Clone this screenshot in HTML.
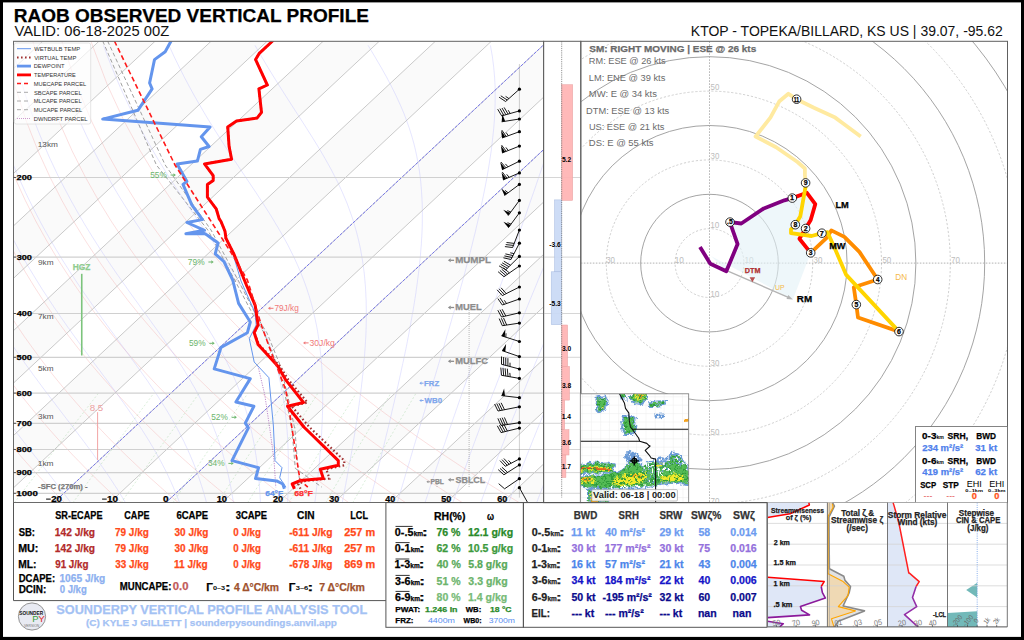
<!DOCTYPE html>
<html><head><meta charset="utf-8"><title>RAOB Observed Vertical Profile</title>
<style>
html,body{margin:0;padding:0;background:#fff;}
body{width:1024px;height:640px;overflow:hidden;position:relative;}
svg{position:absolute;left:0;top:0;display:block;}
text{font-family:"Liberation Sans", sans-serif;}
</style></head><body>
<svg width="1024" height="640" viewBox="0 0 1024 640">
<rect x="0" y="0" width="1024" height="640" fill="#fff"/>
<text x="13.73" y="22.30" font-size="19.00" font-weight="bold" fill="#000" stroke="#000" stroke-width="0.25" textLength="355.21" lengthAdjust="spacingAndGlyphs" >RAOB OBSERVED VERTICAL PROFILE</text>
<text x="14.44" y="36.40" font-size="14.20" font-weight="normal" fill="#111" textLength="154.77" lengthAdjust="spacingAndGlyphs" >VALID: 06-18-2025 00Z</text>
<text x="690.86" y="36.40" font-size="14.20" font-weight="normal" fill="#111" textLength="311.94" lengthAdjust="spacingAndGlyphs" >KTOP - TOPEKA/BILLARD, KS US | 39.07, -95.62</text>
<defs><clipPath id="cs"><rect x="13.5" y="41.3" width="530.1" height="461.2"/></clipPath>
<clipPath id="ch"><rect x="580.8" y="41.3" width="426.7" height="461.3"/></clipPath>
<pattern id="dots" width="3" height="3" patternUnits="userSpaceOnUse"><rect width="3" height="3" fill="#fafafa"/><rect width="1" height="1" fill="#e6e6e6"/></pattern>
</defs>
<g clip-path="url(#cs)">
<polygon points="-618.8,502.5 -562.8,502.5 -69.3,41.3 -125.3,41.3" fill="#fafafa"/>
<polygon points="-506.7,502.5 -450.7,502.5 42.8,41.3 -13.2,41.3" fill="#fafafa"/>
<polygon points="-394.6,502.5 -338.5,502.5 155.0,41.3 98.9,41.3" fill="#fafafa"/>
<polygon points="-282.5,502.5 -226.4,502.5 267.1,41.3 211.0,41.3" fill="#fafafa"/>
<polygon points="-170.4,502.5 -114.3,502.5 379.2,41.3 323.1,41.3" fill="#fafafa"/>
<polygon points="-58.2,502.5 -2.2,502.5 491.3,41.3 435.3,41.3" fill="#fafafa"/>
<polygon points="53.9,502.5 109.9,502.5 603.4,41.3 547.4,41.3" fill="#fafafa"/>
<polygon points="166.0,502.5 222.1,502.5 715.6,41.3 659.5,41.3" fill="#fafafa"/>
<polygon points="278.1,502.5 334.2,502.5 827.7,41.3 771.6,41.3" fill="#fafafa"/>
<polygon points="390.2,502.5 446.3,502.5 939.8,41.3 883.7,41.3" fill="#fafafa"/>
<polygon points="502.4,502.5 558.4,502.5 1051.9,41.3 995.9,41.3" fill="#fafafa"/>
<polyline points="-105.7,502.9 -109.2,498.1 -112.9,493.3 -116.5,488.3 -120.2,483.2 -123.9,478.0 -127.6,472.6 -131.3,467.1 -135.1,461.4 -138.9,455.6 -142.8,449.5 -146.6,443.3 -150.5,436.9 -154.4,430.2 -158.4,423.3 -162.3,416.2 -166.3,408.8 -170.3,401.1 -174.4,393.1 -178.4,384.7 -182.4,376.0 -186.5,366.9 -190.6,357.3 -194.6,347.2 -198.7,336.6 -202.7,325.4 -206.7,313.5 -210.6,300.9 -214.5,287.3 -218.2,272.8 -221.8,257.1 -225.1,240.0 -228.2,221.3 -230.9,200.6 -233.0,177.5 -234.3,151.3 -234.5,121.1 -232.9,85.3 -228.4,41.5" fill="none" stroke="#f4a0a0" stroke-width="0.6" opacity="0.55"/>
<polyline points="-48.8,502.9 -52.8,498.1 -56.8,493.3 -60.8,488.3 -64.9,483.2 -69.0,478.0 -73.2,472.6 -77.4,467.1 -81.6,461.4 -85.9,455.6 -90.2,449.5 -94.5,443.3 -98.9,436.9 -103.3,430.2 -107.7,423.3 -112.2,416.2 -116.7,408.8 -121.3,401.1 -125.9,393.1 -130.5,384.7 -135.2,376.0 -139.9,366.9 -144.6,357.3 -149.3,347.2 -154.1,336.6 -158.8,325.4 -163.5,313.5 -168.3,300.9 -172.9,287.3 -177.5,272.8 -182.0,257.1 -186.4,240.0 -190.5,221.3 -194.3,200.6 -197.6,177.5 -200.3,151.3 -201.9,121.1 -202.0,85.3 -199.4,41.5" fill="none" stroke="#f4a0a0" stroke-width="0.6" opacity="0.55"/>
<polyline points="8.0,502.9 3.7,498.1 -0.7,493.3 -5.2,488.3 -9.7,483.2 -14.2,478.0 -18.8,472.6 -23.4,467.1 -28.1,461.4 -32.8,455.6 -37.6,449.5 -42.4,443.3 -47.2,436.9 -52.1,430.2 -57.1,423.3 -62.1,416.2 -67.2,408.8 -72.3,401.1 -77.5,393.1 -82.7,384.7 -87.9,376.0 -93.2,366.9 -98.6,357.3 -104.0,347.2 -109.4,336.6 -114.9,325.4 -120.4,313.5 -125.9,300.9 -131.4,287.3 -136.9,272.8 -142.3,257.1 -147.6,240.0 -152.7,221.3 -157.7,200.6 -162.2,177.5 -166.2,151.3 -169.3,121.1 -171.0,85.3 -170.4,41.5" fill="none" stroke="#f4a0a0" stroke-width="0.6" opacity="0.55"/>
<polyline points="64.9,502.9 60.1,498.1 55.3,493.3 50.5,488.3 45.6,483.2 40.6,478.0 35.6,472.6 30.5,467.1 25.4,461.4 20.3,455.6 15.0,449.5 9.7,443.3 4.4,436.9 -1.0,430.2 -6.5,423.3 -12.0,416.2 -17.6,408.8 -23.3,401.1 -29.0,393.1 -34.8,384.7 -40.7,376.0 -46.6,366.9 -52.6,357.3 -58.7,347.2 -64.8,336.6 -71.0,325.4 -77.2,313.5 -83.5,300.9 -89.9,287.3 -96.2,272.8 -102.5,257.1 -108.8,240.0 -115.0,221.3 -121.0,200.6 -126.8,177.5 -132.1,151.3 -136.7,121.1 -140.1,85.3 -141.3,41.5" fill="none" stroke="#f4a0a0" stroke-width="0.6" opacity="0.55"/>
<polyline points="121.7,502.9 116.6,498.1 111.4,493.3 106.1,488.3 100.8,483.2 95.4,478.0 90.0,472.6 84.5,467.1 79.0,461.4 73.3,455.6 67.6,449.5 61.9,443.3 56.0,436.9 50.1,430.2 44.2,423.3 38.1,416.2 32.0,408.8 25.7,401.1 19.4,393.1 13.1,384.7 6.6,376.0 0.0,366.9 -6.6,357.3 -13.4,347.2 -20.2,336.6 -27.1,325.4 -34.1,313.5 -41.2,300.9 -48.3,287.3 -55.5,272.8 -62.8,257.1 -70.0,240.0 -77.3,221.3 -84.4,200.6 -91.4,177.5 -98.0,151.3 -104.1,121.1 -109.1,85.3 -112.3,41.5" fill="none" stroke="#f4a0a0" stroke-width="0.6" opacity="0.55"/>
<polyline points="178.6,502.9 173.0,498.1 167.4,493.3 161.8,488.3 156.1,483.2 150.3,478.0 144.4,472.6 138.5,467.1 132.5,461.4 126.4,455.6 120.2,449.5 114.0,443.3 107.7,436.9 101.3,430.2 94.8,423.3 88.2,416.2 81.5,408.8 74.8,401.1 67.9,393.1 60.9,384.7 53.8,376.0 46.7,366.9 39.4,357.3 32.0,347.2 24.4,336.6 16.8,325.4 9.1,313.5 1.2,300.9 -6.8,287.3 -14.9,272.8 -23.0,257.1 -31.3,240.0 -39.6,221.3 -47.8,200.6 -56.0,177.5 -64.0,151.3 -71.5,121.1 -78.2,85.3 -83.2,41.5" fill="none" stroke="#f4a0a0" stroke-width="0.6" opacity="0.55"/>
<polyline points="235.4,502.9 229.5,498.1 223.5,493.3 217.4,488.3 211.3,483.2 205.1,478.0 198.8,472.6 192.4,467.1 186.0,461.4 179.5,455.6 172.8,449.5 166.1,443.3 159.3,436.9 152.4,430.2 145.4,423.3 138.3,416.2 131.1,408.8 123.8,401.1 116.3,393.1 108.8,384.7 101.1,376.0 93.3,366.9 85.4,357.3 77.3,347.2 69.1,336.6 60.7,325.4 52.2,313.5 43.5,300.9 34.7,287.3 25.8,272.8 16.7,257.1 7.5,240.0 -1.8,221.3 -11.2,200.6 -20.6,177.5 -29.9,151.3 -38.9,121.1 -47.2,85.3 -54.2,41.5" fill="none" stroke="#f4a0a0" stroke-width="0.6" opacity="0.55"/>
<polyline points="292.3,502.9 286.0,498.1 279.6,493.3 273.1,488.3 266.5,483.2 259.9,478.0 253.2,472.6 246.4,467.1 239.5,461.4 232.5,455.6 225.4,449.5 218.2,443.3 210.9,436.9 203.6,430.2 196.0,423.3 188.4,416.2 180.7,408.8 172.8,401.1 164.8,393.1 156.6,384.7 148.4,376.0 139.9,366.9 131.3,357.3 122.6,347.2 113.7,336.6 104.6,325.4 95.3,313.5 85.9,300.9 76.3,287.3 66.5,272.8 56.4,257.1 46.3,240.0 35.9,221.3 25.4,200.6 14.8,177.5 4.2,151.3 -6.3,121.1 -16.3,85.3 -25.2,41.5" fill="none" stroke="#f4a0a0" stroke-width="0.6" opacity="0.55"/>
<polyline points="349.1,502.9 342.4,498.1 335.6,493.3 328.7,488.3 321.8,483.2 314.7,478.0 307.6,472.6 300.4,467.1 293.0,461.4 285.6,455.6 278.0,449.5 270.4,443.3 262.6,436.9 254.7,430.2 246.7,423.3 238.5,416.2 230.2,408.8 221.8,401.1 213.2,393.1 204.5,384.7 195.6,376.0 186.6,366.9 177.3,357.3 167.9,347.2 158.3,336.6 148.5,325.4 138.5,313.5 128.3,300.9 117.8,287.3 107.1,272.8 96.2,257.1 85.0,240.0 73.6,221.3 62.0,200.6 50.2,177.5 38.2,151.3 26.3,121.1 14.7,85.3 3.9,41.5" fill="none" stroke="#f4a0a0" stroke-width="0.6" opacity="0.55"/>
<polyline points="406.0,502.9 398.9,498.1 391.7,493.3 384.4,488.3 377.0,483.2 369.6,478.0 362.0,472.6 354.3,467.1 346.5,461.4 338.6,455.6 330.6,449.5 322.5,443.3 314.2,436.9 305.8,430.2 297.3,423.3 288.6,416.2 279.8,408.8 270.8,401.1 261.7,393.1 252.4,384.7 242.9,376.0 233.2,366.9 223.3,357.3 213.2,347.2 202.9,336.6 192.4,325.4 181.6,313.5 170.6,300.9 159.3,287.3 147.8,272.8 135.9,257.1 123.8,240.0 111.3,221.3 98.6,200.6 85.6,177.5 72.3,151.3 58.9,121.1 45.6,85.3 32.9,41.5" fill="none" stroke="#f4a0a0" stroke-width="0.6" opacity="0.55"/>
<polyline points="462.8,502.9 455.3,498.1 447.7,493.3 440.1,488.3 432.3,483.2 424.4,478.0 416.4,472.6 408.3,467.1 400.1,461.4 391.7,455.6 383.2,449.5 374.6,443.3 365.9,436.9 357.0,430.2 347.9,423.3 338.7,416.2 329.4,408.8 319.8,401.1 310.1,393.1 300.2,384.7 290.1,376.0 279.8,366.9 269.3,357.3 258.6,347.2 247.6,336.6 236.3,325.4 224.8,313.5 213.0,300.9 200.9,287.3 188.4,272.8 175.7,257.1 162.6,240.0 149.1,221.3 135.2,200.6 121.0,177.5 106.4,151.3 91.5,121.1 76.6,85.3 61.9,41.5" fill="none" stroke="#f4a0a0" stroke-width="0.6" opacity="0.55"/>
<polyline points="519.7,502.9 511.8,498.1 503.8,493.3 495.7,488.3 487.5,483.2 479.2,478.0 470.8,472.6 462.2,467.1 453.6,461.4 444.8,455.6 435.8,449.5 426.7,443.3 417.5,436.9 408.1,430.2 398.6,423.3 388.8,416.2 378.9,408.8 368.9,401.1 358.6,393.1 348.1,384.7 337.4,376.0 326.5,366.9 315.3,357.3 303.9,347.2 292.2,336.6 280.2,325.4 267.9,313.5 255.3,300.9 242.4,287.3 229.1,272.8 215.4,257.1 201.3,240.0 186.8,221.3 171.8,200.6 156.4,177.5 140.5,151.3 124.1,121.1 107.5,85.3 91.0,41.5" fill="none" stroke="#f4a0a0" stroke-width="0.6" opacity="0.55"/>
<polyline points="70.8,502.9 70.2,501.9 69.5,501.0 68.8,500.0 68.1,499.1 67.4,498.1 66.6,497.2 65.9,496.2 65.2,495.3 64.5,494.3 63.7,493.3 63.1,492.5 62.2,491.3 61.3,490.1 60.4,488.9 59.5,487.7 58.6,486.5 57.7,485.3 56.7,484.1 55.8,482.8 54.8,481.6 53.8,480.3 52.9,479.1 51.9,477.8 50.9,476.5 49.9,475.2 48.9,473.9 47.9,472.6 46.8,471.3 45.8,470.0 44.8,468.7 43.7,467.3 42.7,466.0 41.6,464.6 40.5,463.3 39.4,461.9 38.4,460.5 37.3,459.1 36.2,457.7 35.0,456.3 33.9,454.8 32.8,453.4 31.7,452.0 30.5,450.5 29.4,449.0 28.2,447.5 27.0,446.1 25.9,444.6 24.7,443.0 23.5,441.5 22.3,440.0 21.1,438.4 19.9,436.9 18.7,435.3 17.4,433.7 16.2,432.1 14.9,430.5 13.7,428.8 12.4,427.2 11.2,425.5 9.9,423.9 8.6,422.2 7.3,420.5 6.0,418.8 4.7,417.1 3.4,415.3 2.1,413.6 0.8,411.8 -0.5,410.0 -1.9,408.2 -3.2,406.4 -4.6,404.5 -5.9,402.6 -7.3,400.8 -8.6,398.9 -10.0,397.0 -11.4,395.0 -12.8,393.1 -14.2,391.1 -15.6,389.1 -17.0,387.1 -18.4,385.1 -19.8,383.0 -21.2,380.9 -22.7,378.8 -24.1,376.7 -25.6,374.6 -27.0,372.4 -28.5,370.2 -29.9,368.0 -31.4,365.8 -32.9,363.5 -34.3,361.2 -35.8,358.9 -37.3,356.5 -38.8,354.1 -40.3,351.7 -41.8,349.3 -43.3,346.8 -44.8,344.3 -46.3,341.8 -47.9,339.2 -49.4,336.6 -50.9,334.0 -52.4,331.3 -54.0,328.6 -55.5,325.9 -57.1,323.1 -58.6,320.3 -60.2,317.4 -61.8,314.5 -63.3,311.6 -64.9,308.6 -66.5,305.5 -68.0,302.4 -69.6,299.3 -71.2,296.1 -72.8,292.9 -74.4,289.6 -76.0,286.2 -77.5,282.8 -79.1,279.3 -80.7,275.8 -82.3,272.2 -83.9,268.5 -85.5,264.8 -87.1,261.0 -88.7,257.1 -90.3,253.1 -91.9,249.1 -93.5,244.9 -95.1,240.7 -96.7,236.4 -98.2,232.0 -99.8,227.5 -101.4,222.9 -102.9,218.1 -104.5,213.3 -106.0,208.3 -107.6,203.2 -109.1,198.0 -110.6,192.6 -112.1,187.1 -113.5,181.4 -115.0,175.6 -116.4,169.5 -117.8,163.3 -119.2,156.9 -120.5,150.2 -121.8,143.3 -123.0,136.2 -124.2,128.8 -125.4,121.1 -126.4,113.1 -127.4,104.7 -128.4,96.0 -129.2,86.9 -129.9,77.3 -130.5,67.2 -130.9,56.6 -131.2,45.4" fill="none" stroke="#b8b8ff" stroke-width="0.6" opacity="0.6"/>
<polyline points="125.5,502.9 125.0,501.9 124.4,501.0 123.9,500.0 123.3,499.1 122.7,498.1 122.2,497.2 121.6,496.2 121.0,495.3 120.4,494.3 119.8,493.3 119.3,492.5 118.6,491.3 117.8,490.1 117.1,488.9 116.3,487.7 115.5,486.5 114.7,485.3 113.9,484.1 113.1,482.8 112.3,481.6 111.5,480.3 110.6,479.1 109.8,477.8 108.9,476.5 108.1,475.2 107.2,473.9 106.3,472.6 105.4,471.3 104.5,470.0 103.6,468.7 102.6,467.3 101.7,466.0 100.7,464.6 99.8,463.3 98.8,461.9 97.8,460.5 96.8,459.1 95.8,457.7 94.7,456.3 93.7,454.8 92.7,453.4 91.6,452.0 90.5,450.5 89.4,449.0 88.3,447.5 87.2,446.1 86.1,444.6 85.0,443.0 83.8,441.5 82.7,440.0 81.5,438.4 80.3,436.9 79.1,435.3 77.9,433.7 76.7,432.1 75.5,430.5 74.2,428.8 73.0,427.2 71.7,425.5 70.4,423.9 69.1,422.2 67.8,420.5 66.5,418.8 65.2,417.1 63.8,415.3 62.5,413.6 61.1,411.8 59.8,410.0 58.4,408.2 57.0,406.4 55.6,404.5 54.2,402.6 52.7,400.8 51.3,398.9 49.8,397.0 48.4,395.0 46.9,393.1 45.4,391.1 43.9,389.1 42.4,387.1 40.9,385.1 39.4,383.0 37.8,380.9 36.3,378.8 34.7,376.7 33.1,374.6 31.6,372.4 30.0,370.2 28.4,368.0 26.8,365.8 25.1,363.5 23.5,361.2 21.9,358.9 20.2,356.5 18.6,354.1 16.9,351.7 15.2,349.3 13.5,346.8 11.9,344.3 10.2,341.8 8.4,339.2 6.7,336.6 5.0,334.0 3.3,331.3 1.5,328.6 -0.2,325.9 -2.0,323.1 -3.7,320.3 -5.5,317.4 -7.3,314.5 -9.1,311.6 -10.9,308.6 -12.7,305.5 -14.5,302.4 -16.3,299.3 -18.1,296.1 -20.0,292.9 -21.8,289.6 -23.6,286.2 -25.5,282.8 -27.3,279.3 -29.2,275.8 -31.0,272.2 -32.9,268.5 -34.8,264.8 -36.7,261.0 -38.5,257.1 -40.4,253.1 -42.3,249.1 -44.2,244.9 -46.1,240.7 -48.0,236.4 -49.8,232.0 -51.7,227.5 -53.6,222.9 -55.5,218.1 -57.4,213.3 -59.3,208.3 -61.2,203.2 -63.0,198.0 -64.9,192.6 -66.7,187.1 -68.6,181.4 -70.4,175.6 -72.2,169.5 -74.0,163.3 -75.8,156.9 -77.5,150.2 -79.3,143.3 -80.9,136.2 -82.6,128.8 -84.2,121.1 -85.7,113.1 -87.2,104.7 -88.7,96.0 -90.0,86.9 -91.3,77.3 -92.4,67.2 -93.4,56.6 -94.3,45.4" fill="none" stroke="#b8b8ff" stroke-width="0.6" opacity="0.6"/>
<polyline points="179.6,502.9 179.2,501.9 178.9,501.0 178.5,500.0 178.2,499.1 177.8,498.1 177.4,497.2 177.0,496.2 176.6,495.3 176.2,494.3 175.9,493.3 175.5,492.5 175.0,491.3 174.5,490.1 174.0,488.9 173.5,487.7 173.0,486.5 172.5,485.3 171.9,484.1 171.4,482.8 170.8,481.6 170.2,480.3 169.6,479.1 169.0,477.8 168.4,476.5 167.8,475.2 167.2,473.9 166.6,472.6 165.9,471.3 165.3,470.0 164.6,468.7 163.9,467.3 163.2,466.0 162.5,464.6 161.8,463.3 161.1,461.9 160.3,460.5 159.6,459.1 158.8,457.7 158.0,456.3 157.2,454.8 156.4,453.4 155.6,452.0 154.7,450.5 153.9,449.0 153.0,447.5 152.1,446.1 151.2,444.6 150.3,443.0 149.4,441.5 148.5,440.0 147.5,438.4 146.5,436.9 145.5,435.3 144.5,433.7 143.5,432.1 142.5,430.5 141.4,428.8 140.3,427.2 139.2,425.5 138.1,423.9 137.0,422.2 135.9,420.5 134.7,418.8 133.5,417.1 132.3,415.3 131.1,413.6 129.8,411.8 128.6,410.0 127.3,408.2 126.0,406.4 124.7,404.5 123.4,402.6 122.0,400.8 120.7,398.9 119.3,397.0 117.9,395.0 116.4,393.1 115.0,391.1 113.5,389.1 112.0,387.1 110.5,385.1 109.0,383.0 107.5,380.9 105.9,378.8 104.3,376.7 102.7,374.6 101.1,372.4 99.5,370.2 97.8,368.0 96.1,365.8 94.4,363.5 92.7,361.2 91.0,358.9 89.2,356.5 87.5,354.1 85.7,351.7 83.9,349.3 82.1,346.8 80.2,344.3 78.4,341.8 76.5,339.2 74.6,336.6 72.7,334.0 70.8,331.3 68.9,328.6 66.9,325.9 65.0,323.1 63.0,320.3 61.0,317.4 59.0,314.5 57.0,311.6 54.9,308.6 52.9,305.5 50.8,302.4 48.8,299.3 46.7,296.1 44.6,292.9 42.4,289.6 40.3,286.2 38.2,282.8 36.0,279.3 33.9,275.8 31.7,272.2 29.5,268.5 27.3,264.8 25.1,261.0 22.9,257.1 20.7,253.1 18.4,249.1 16.2,244.9 13.9,240.7 11.7,236.4 9.4,232.0 7.1,227.5 4.9,222.9 2.6,218.1 0.3,213.3 -2.0,208.3 -4.3,203.2 -6.6,198.0 -8.9,192.6 -11.2,187.1 -13.5,181.4 -15.8,175.6 -18.1,169.5 -20.4,163.3 -22.6,156.9 -24.9,150.2 -27.1,143.3 -29.4,136.2 -31.6,128.8 -33.7,121.1 -35.9,113.1 -38.0,104.7 -40.0,96.0 -42.0,86.9 -43.9,77.3 -45.8,67.2 -47.5,56.6 -49.1,45.4" fill="none" stroke="#b8b8ff" stroke-width="0.6" opacity="0.6"/>
<polyline points="206.5,502.9 206.3,501.9 206.0,501.0 205.8,500.0 205.5,499.1 205.3,498.1 205.0,497.2 204.7,496.2 204.4,495.3 204.2,494.3 203.9,493.3 203.7,492.5 203.3,491.3 202.9,490.1 202.6,488.9 202.2,487.7 201.8,486.5 201.4,485.3 201.0,484.1 200.6,482.8 200.2,481.6 199.8,480.3 199.4,479.1 198.9,477.8 198.5,476.5 198.0,475.2 197.6,473.9 197.1,472.6 196.6,471.3 196.1,470.0 195.6,468.7 195.1,467.3 194.6,466.0 194.1,464.6 193.5,463.3 193.0,461.9 192.4,460.5 191.8,459.1 191.2,457.7 190.6,456.3 190.0,454.8 189.4,453.4 188.7,452.0 188.1,450.5 187.4,449.0 186.7,447.5 186.0,446.1 185.3,444.6 184.6,443.0 183.9,441.5 183.1,440.0 182.3,438.4 181.5,436.9 180.7,435.3 179.9,433.7 179.1,432.1 178.2,430.5 177.3,428.8 176.5,427.2 175.5,425.5 174.6,423.9 173.7,422.2 172.7,420.5 171.7,418.8 170.7,417.1 169.7,415.3 168.6,413.6 167.6,411.8 166.5,410.0 165.4,408.2 164.3,406.4 163.1,404.5 161.9,402.6 160.7,400.8 159.5,398.9 158.3,397.0 157.0,395.0 155.7,393.1 154.4,391.1 153.1,389.1 151.7,387.1 150.3,385.1 148.9,383.0 147.5,380.9 146.0,378.8 144.5,376.7 143.0,374.6 141.5,372.4 139.9,370.2 138.3,368.0 136.7,365.8 135.1,363.5 133.4,361.2 131.7,358.9 130.0,356.5 128.3,354.1 126.5,351.7 124.7,349.3 122.9,346.8 121.1,344.3 119.2,341.8 117.3,339.2 115.4,336.6 113.5,334.0 111.5,331.3 109.5,328.6 107.5,325.9 105.5,323.1 103.4,320.3 101.4,317.4 99.3,314.5 97.2,311.6 95.0,308.6 92.9,305.5 90.7,302.4 88.5,299.3 86.3,296.1 84.0,292.9 81.8,289.6 79.5,286.2 77.2,282.8 74.9,279.3 72.6,275.8 70.2,272.2 67.9,268.5 65.5,264.8 63.1,261.0 60.7,257.1 58.3,253.1 55.8,249.1 53.4,244.9 50.9,240.7 48.4,236.4 45.9,232.0 43.4,227.5 40.9,222.9 38.4,218.1 35.9,213.3 33.3,208.3 30.8,203.2 28.2,198.0 25.6,192.6 23.1,187.1 20.5,181.4 17.9,175.6 15.3,169.5 12.7,163.3 10.2,156.9 7.6,150.2 5.0,143.3 2.5,136.2 -0.1,128.8 -2.6,121.1 -5.1,113.1 -7.6,104.7 -10.0,96.0 -12.4,86.9 -14.7,77.3 -17.0,67.2 -19.2,56.6 -21.2,45.4" fill="none" stroke="#b8b8ff" stroke-width="0.6" opacity="0.6"/>
<polyline points="233.5,502.9 233.3,501.9 233.2,501.0 233.0,500.0 232.9,499.1 232.7,498.1 232.6,497.2 232.4,496.2 232.2,495.3 232.1,494.3 231.9,493.3 231.8,492.5 231.6,491.3 231.3,490.1 231.1,488.9 230.9,487.7 230.7,486.5 230.4,485.3 230.2,484.1 229.9,482.8 229.7,481.6 229.4,480.3 229.2,479.1 228.9,477.8 228.6,476.5 228.3,475.2 228.0,473.9 227.7,472.6 227.4,471.3 227.1,470.0 226.8,468.7 226.4,467.3 226.1,466.0 225.7,464.6 225.4,463.3 225.0,461.9 224.6,460.5 224.2,459.1 223.8,457.7 223.4,456.3 223.0,454.8 222.6,453.4 222.2,452.0 221.7,450.5 221.2,449.0 220.8,447.5 220.3,446.1 219.8,444.6 219.3,443.0 218.8,441.5 218.2,440.0 217.7,438.4 217.1,436.9 216.6,435.3 216.0,433.7 215.4,432.1 214.7,430.5 214.1,428.8 213.5,427.2 212.8,425.5 212.1,423.9 211.4,422.2 210.7,420.5 210.0,418.8 209.2,417.1 208.4,415.3 207.6,413.6 206.8,411.8 206.0,410.0 205.1,408.2 204.2,406.4 203.3,404.5 202.4,402.6 201.5,400.8 200.5,398.9 199.5,397.0 198.5,395.0 197.5,393.1 196.4,391.1 195.3,389.1 194.2,387.1 193.0,385.1 191.8,383.0 190.6,380.9 189.4,378.8 188.1,376.7 186.8,374.6 185.5,372.4 184.2,370.2 182.8,368.0 181.4,365.8 179.9,363.5 178.4,361.2 176.9,358.9 175.4,356.5 173.8,354.1 172.2,351.7 170.5,349.3 168.8,346.8 167.1,344.3 165.3,341.8 163.6,339.2 161.7,336.6 159.9,334.0 158.0,331.3 156.1,328.6 154.1,325.9 152.1,323.1 150.1,320.3 148.0,317.4 145.9,314.5 143.8,311.6 141.6,308.6 139.4,305.5 137.2,302.4 134.9,299.3 132.6,296.1 130.3,292.9 127.9,289.6 125.6,286.2 123.1,282.8 120.7,279.3 118.2,275.8 115.7,272.2 113.2,268.5 110.6,264.8 108.1,261.0 105.5,257.1 102.8,253.1 100.2,249.1 97.5,244.9 94.8,240.7 92.1,236.4 89.4,232.0 86.6,227.5 83.8,222.9 81.0,218.1 78.2,213.3 75.4,208.3 72.5,203.2 69.7,198.0 66.8,192.6 63.9,187.1 61.0,181.4 58.0,175.6 55.1,169.5 52.2,163.3 49.2,156.9 46.3,150.2 43.3,143.3 40.4,136.2 37.4,128.8 34.5,121.1 31.6,113.1 28.7,104.7 25.8,96.0 22.9,86.9 20.1,77.3 17.3,67.2 14.6,56.6 12.0,45.4" fill="none" stroke="#b8b8ff" stroke-width="0.6" opacity="0.6"/>
<polyline points="260.5,502.9 260.4,501.9 260.4,501.0 260.3,500.0 260.3,499.1 260.2,498.1 260.2,497.2 260.1,496.2 260.1,495.3 260.0,494.3 259.9,493.3 259.9,492.5 259.8,491.3 259.7,490.1 259.6,488.9 259.6,487.7 259.5,486.5 259.4,485.3 259.3,484.1 259.2,482.8 259.1,481.6 258.9,480.3 258.8,479.1 258.7,477.8 258.6,476.5 258.5,475.2 258.3,473.9 258.2,472.6 258.0,471.3 257.9,470.0 257.7,468.7 257.6,467.3 257.4,466.0 257.2,464.6 257.1,463.3 256.9,461.9 256.7,460.5 256.5,459.1 256.3,457.7 256.1,456.3 255.9,454.8 255.6,453.4 255.4,452.0 255.2,450.5 254.9,449.0 254.7,447.5 254.4,446.1 254.1,444.6 253.9,443.0 253.6,441.5 253.3,440.0 253.0,438.4 252.6,436.9 252.3,435.3 252.0,433.7 251.6,432.1 251.3,430.5 250.9,428.8 250.5,427.2 250.1,425.5 249.7,423.9 249.3,422.2 248.8,420.5 248.4,418.8 247.9,417.1 247.4,415.3 246.9,413.6 246.4,411.8 245.9,410.0 245.3,408.2 244.8,406.4 244.2,404.5 243.6,402.6 243.0,400.8 242.3,398.9 241.7,397.0 241.0,395.0 240.3,393.1 239.5,391.1 238.8,389.1 238.0,387.1 237.2,385.1 236.4,383.0 235.5,380.9 234.6,378.8 233.7,376.7 232.8,374.6 231.8,372.4 230.8,370.2 229.8,368.0 228.7,365.8 227.6,363.5 226.5,361.2 225.3,358.9 224.1,356.5 222.9,354.1 221.6,351.7 220.3,349.3 218.9,346.8 217.5,344.3 216.1,341.8 214.6,339.2 213.1,336.6 211.5,334.0 209.9,331.3 208.2,328.6 206.5,325.9 204.8,323.1 203.0,320.3 201.1,317.4 199.2,314.5 197.2,311.6 195.2,308.6 193.2,305.5 191.1,302.4 188.9,299.3 186.7,296.1 184.5,292.9 182.2,289.6 179.8,286.2 177.4,282.8 174.9,279.3 172.4,275.8 169.9,272.2 167.3,268.5 164.7,264.8 162.0,261.0 159.2,257.1 156.5,253.1 153.6,249.1 150.8,244.9 147.9,240.7 144.9,236.4 142.0,232.0 139.0,227.5 135.9,222.9 132.8,218.1 129.7,213.3 126.6,208.3 123.4,203.2 120.2,198.0 116.9,192.6 113.7,187.1 110.4,181.4 107.1,175.6 103.7,169.5 100.4,163.3 97.0,156.9 93.6,150.2 90.2,143.3 86.7,136.2 83.3,128.8 79.8,121.1 76.4,113.1 72.9,104.7 69.5,96.0 66.1,86.9 62.6,77.3 59.3,67.2 55.9,56.6 52.6,45.4" fill="none" stroke="#b8b8ff" stroke-width="0.6" opacity="0.6"/>
<polyline points="287.6,502.9 287.6,501.9 287.7,501.0 287.7,500.0 287.7,499.1 287.8,498.1 287.8,497.2 287.9,496.2 287.9,495.3 287.9,494.3 288.0,493.3 288.0,492.5 288.0,491.3 288.1,490.1 288.1,488.9 288.1,487.7 288.2,486.5 288.2,485.3 288.2,484.1 288.3,482.8 288.3,481.6 288.3,480.3 288.3,479.1 288.4,477.8 288.4,476.5 288.4,475.2 288.4,473.9 288.4,472.6 288.4,471.3 288.4,470.0 288.4,468.7 288.4,467.3 288.4,466.0 288.4,464.6 288.4,463.3 288.4,461.9 288.4,460.5 288.3,459.1 288.3,457.7 288.3,456.3 288.3,454.8 288.2,453.4 288.2,452.0 288.1,450.5 288.1,449.0 288.0,447.5 288.0,446.1 287.9,444.6 287.8,443.0 287.8,441.5 287.7,440.0 287.6,438.4 287.5,436.9 287.4,435.3 287.3,433.7 287.2,432.1 287.1,430.5 286.9,428.8 286.8,427.2 286.7,425.5 286.5,423.9 286.4,422.2 286.2,420.5 286.0,418.8 285.8,417.1 285.6,415.3 285.4,413.6 285.2,411.8 285.0,410.0 284.8,408.2 284.5,406.4 284.3,404.5 284.0,402.6 283.7,400.8 283.4,398.9 283.1,397.0 282.8,395.0 282.4,393.1 282.1,391.1 281.7,389.1 281.3,387.1 280.9,385.1 280.5,383.0 280.0,380.9 279.6,378.8 279.1,376.7 278.6,374.6 278.1,372.4 277.5,370.2 276.9,368.0 276.3,365.8 275.7,363.5 275.0,361.2 274.3,358.9 273.6,356.5 272.9,354.1 272.1,351.7 271.3,349.3 270.4,346.8 269.6,344.3 268.6,341.8 267.7,339.2 266.7,336.6 265.6,334.0 264.5,331.3 263.4,328.6 262.2,325.9 261.0,323.1 259.7,320.3 258.3,317.4 257.0,314.5 255.5,311.6 254.0,308.6 252.4,305.5 250.8,302.4 249.1,299.3 247.3,296.1 245.5,292.9 243.6,289.6 241.6,286.2 239.6,282.8 237.4,279.3 235.3,275.8 233.0,272.2 230.6,268.5 228.2,264.8 225.7,261.0 223.1,257.1 220.5,253.1 217.7,249.1 214.9,244.9 212.0,240.7 209.0,236.4 206.0,232.0 202.9,227.5 199.7,222.9 196.4,218.1 193.1,213.3 189.7,208.3 186.3,203.2 182.8,198.0 179.2,192.6 175.6,187.1 171.9,181.4 168.1,175.6 164.3,169.5 160.5,163.3 156.6,156.9 152.7,150.2 148.7,143.3 144.7,136.2 140.7,128.8 136.6,121.1 132.5,113.1 128.4,104.7 124.3,96.0 120.1,86.9 116.0,77.3 111.8,67.2 107.7,56.6 103.5,45.4" fill="none" stroke="#b8b8ff" stroke-width="0.6" opacity="0.6"/>
<polyline points="314.8,502.9 314.9,501.9 315.1,501.0 315.2,500.0 315.3,499.1 315.4,498.1 315.5,497.2 315.6,496.2 315.8,495.3 315.9,494.3 316.0,493.3 316.1,492.5 316.2,491.3 316.4,490.1 316.5,488.9 316.7,487.7 316.8,486.5 316.9,485.3 317.1,484.1 317.2,482.8 317.4,481.6 317.5,480.3 317.6,479.1 317.8,477.8 317.9,476.5 318.1,475.2 318.2,473.9 318.3,472.6 318.5,471.3 318.6,470.0 318.7,468.7 318.9,467.3 319.0,466.0 319.1,464.6 319.3,463.3 319.4,461.9 319.5,460.5 319.6,459.1 319.8,457.7 319.9,456.3 320.0,454.8 320.1,453.4 320.3,452.0 320.4,450.5 320.5,449.0 320.6,447.5 320.7,446.1 320.8,444.6 320.9,443.0 321.1,441.5 321.2,440.0 321.3,438.4 321.4,436.9 321.5,435.3 321.6,433.7 321.7,432.1 321.7,430.5 321.8,428.8 321.9,427.2 322.0,425.5 322.1,423.9 322.2,422.2 322.2,420.5 322.3,418.8 322.4,417.1 322.4,415.3 322.5,413.6 322.5,411.8 322.6,410.0 322.6,408.2 322.6,406.4 322.7,404.5 322.7,402.6 322.7,400.8 322.7,398.9 322.7,397.0 322.7,395.0 322.7,393.1 322.7,391.1 322.7,389.1 322.6,387.1 322.6,385.1 322.5,383.0 322.5,380.9 322.4,378.8 322.3,376.7 322.2,374.6 322.1,372.4 322.0,370.2 321.8,368.0 321.7,365.8 321.5,363.5 321.3,361.2 321.1,358.9 320.9,356.5 320.7,354.1 320.4,351.7 320.1,349.3 319.9,346.8 319.5,344.3 319.2,341.8 318.8,339.2 318.4,336.6 318.0,334.0 317.6,331.3 317.1,328.6 316.6,325.9 316.0,323.1 315.4,320.3 314.8,317.4 314.1,314.5 313.4,311.6 312.7,308.6 311.9,305.5 311.0,302.4 310.1,299.3 309.2,296.1 308.1,292.9 307.1,289.6 305.9,286.2 304.7,282.8 303.4,279.3 302.0,275.8 300.6,272.2 299.0,268.5 297.4,264.8 295.7,261.0 293.9,257.1 291.9,253.1 289.9,249.1 287.8,244.9 285.5,240.7 283.1,236.4 280.6,232.0 278.0,227.5 275.2,222.9 272.4,218.1 269.4,213.3 266.2,208.3 262.9,203.2 259.5,198.0 256.0,192.6 252.3,187.1 248.5,181.4 244.6,175.6 240.5,169.5 236.4,163.3 232.1,156.9 227.7,150.2 223.2,143.3 218.7,136.2 214.0,128.8 209.2,121.1 204.4,113.1 199.5,104.7 194.5,96.0 189.5,86.9 184.4,77.3 179.3,67.2 174.1,56.6 169.0,45.4" fill="none" stroke="#b8b8ff" stroke-width="0.6" opacity="0.6"/>
<polyline points="342.2,502.9 342.4,501.9 342.6,501.0 342.7,500.0 342.9,499.1 343.1,498.1 343.3,497.2 343.5,496.2 343.7,495.3 343.8,494.3 344.0,493.3 344.2,492.5 344.4,491.3 344.6,490.1 344.9,488.9 345.1,487.7 345.3,486.5 345.6,485.3 345.8,484.1 346.0,482.8 346.2,481.6 346.5,480.3 346.7,479.1 347.0,477.8 347.2,476.5 347.4,475.2 347.7,473.9 347.9,472.6 348.1,471.3 348.4,470.0 348.6,468.7 348.9,467.3 349.1,466.0 349.4,464.6 349.6,463.3 349.9,461.9 350.1,460.5 350.4,459.1 350.6,457.7 350.9,456.3 351.1,454.8 351.4,453.4 351.6,452.0 351.9,450.5 352.1,449.0 352.4,447.5 352.6,446.1 352.9,444.6 353.1,443.0 353.4,441.5 353.6,440.0 353.9,438.4 354.2,436.9 354.4,435.3 354.7,433.7 354.9,432.1 355.2,430.5 355.5,428.8 355.7,427.2 356.0,425.5 356.2,423.9 356.5,422.2 356.8,420.5 357.0,418.8 357.3,417.1 357.5,415.3 357.8,413.6 358.1,411.8 358.3,410.0 358.6,408.2 358.8,406.4 359.1,404.5 359.3,402.6 359.6,400.8 359.9,398.9 360.1,397.0 360.4,395.0 360.6,393.1 360.9,391.1 361.1,389.1 361.4,387.1 361.6,385.1 361.8,383.0 362.1,380.9 362.3,378.8 362.5,376.7 362.8,374.6 363.0,372.4 363.2,370.2 363.4,368.0 363.7,365.8 363.9,363.5 364.1,361.2 364.3,358.9 364.5,356.5 364.7,354.1 364.8,351.7 365.0,349.3 365.2,346.8 365.3,344.3 365.5,341.8 365.6,339.2 365.8,336.6 365.9,334.0 366.0,331.3 366.1,328.6 366.2,325.9 366.2,323.1 366.3,320.3 366.3,317.4 366.3,314.5 366.3,311.6 366.3,308.6 366.2,305.5 366.2,302.4 366.1,299.3 365.9,296.1 365.8,292.9 365.6,289.6 365.4,286.2 365.1,282.8 364.8,279.3 364.5,275.8 364.1,272.2 363.6,268.5 363.1,264.8 362.6,261.0 361.9,257.1 361.2,253.1 360.5,249.1 359.6,244.9 358.7,240.7 357.6,236.4 356.5,232.0 355.2,227.5 353.9,222.9 352.4,218.1 350.7,213.3 348.9,208.3 347.0,203.2 344.8,198.0 342.5,192.6 340.0,187.1 337.3,181.4 334.3,175.6 331.2,169.5 327.7,163.3 324.1,156.9 320.2,150.2 316.0,143.3 311.6,136.2 306.9,128.8 302.0,121.1 296.8,113.1 291.4,104.7 285.8,96.0 280.0,86.9 274.0,77.3 267.8,67.2 261.5,56.6 255.0,45.4" fill="none" stroke="#b8b8ff" stroke-width="0.6" opacity="0.6"/>
<polyline points="369.7,502.9 369.9,501.9 370.2,501.0 370.4,500.0 370.6,499.1 370.9,498.1 371.1,497.2 371.3,496.2 371.6,495.3 371.8,494.3 372.1,493.3 372.3,492.5 372.6,491.3 372.8,490.1 373.1,488.9 373.4,487.7 373.7,486.5 374.0,485.3 374.4,484.1 374.7,482.8 375.0,481.6 375.3,480.3 375.6,479.1 375.9,477.8 376.2,476.5 376.5,475.2 376.9,473.9 377.2,472.6 377.5,471.3 377.8,470.0 378.2,468.7 378.5,467.3 378.8,466.0 379.2,464.6 379.5,463.3 379.8,461.9 380.2,460.5 380.5,459.1 380.9,457.7 381.2,456.3 381.6,454.8 381.9,453.4 382.3,452.0 382.6,450.5 383.0,449.0 383.3,447.5 383.7,446.1 384.1,444.6 384.4,443.0 384.8,441.5 385.2,440.0 385.6,438.4 385.9,436.9 386.3,435.3 386.7,433.7 387.1,432.1 387.5,430.5 387.9,428.8 388.3,427.2 388.7,425.5 389.1,423.9 389.5,422.2 389.9,420.5 390.3,418.8 390.7,417.1 391.1,415.3 391.5,413.6 391.9,411.8 392.3,410.0 392.8,408.2 393.2,406.4 393.6,404.5 394.1,402.6 394.5,400.8 394.9,398.9 395.4,397.0 395.8,395.0 396.3,393.1 396.7,391.1 397.2,389.1 397.6,387.1 398.1,385.1 398.5,383.0 399.0,380.9 399.5,378.8 399.9,376.7 400.4,374.6 400.9,372.4 401.3,370.2 401.8,368.0 402.3,365.8 402.8,363.5 403.3,361.2 403.8,358.9 404.3,356.5 404.8,354.1 405.3,351.7 405.8,349.3 406.3,346.8 406.8,344.3 407.3,341.8 407.8,339.2 408.3,336.6 408.8,334.0 409.3,331.3 409.8,328.6 410.3,325.9 410.8,323.1 411.3,320.3 411.8,317.4 412.3,314.5 412.9,311.6 413.4,308.6 413.9,305.5 414.4,302.4 414.9,299.3 415.4,296.1 415.9,292.9 416.3,289.6 416.8,286.2 417.3,282.8 417.7,279.3 418.2,275.8 418.6,272.2 419.1,268.5 419.5,264.8 419.9,261.0 420.3,257.1 420.6,253.1 420.9,249.1 421.3,244.9 421.5,240.7 421.8,236.4 422.0,232.0 422.2,227.5 422.3,222.9 422.3,218.1 422.4,213.3 422.3,208.3 422.2,203.2 421.9,198.0 421.6,192.6 421.2,187.1 420.7,181.4 420.0,175.6 419.2,169.5 418.1,163.3 416.9,156.9 415.5,150.2 413.8,143.3 411.8,136.2 409.5,128.8 406.8,121.1 403.8,113.1 400.2,104.7 396.2,96.0 391.7,86.9 386.7,77.3 381.0,67.2 374.8,56.6 368.1,45.4" fill="none" stroke="#b8b8ff" stroke-width="0.6" opacity="0.6"/>
<polyline points="397.3,502.9 397.6,501.9 397.8,501.0 398.1,500.0 398.4,499.1 398.7,498.1 399.0,497.2 399.2,496.2 399.5,495.3 399.8,494.3 400.1,493.3 400.3,492.5 400.7,491.3 401.0,490.1 401.4,488.9 401.7,487.7 402.1,486.5 402.4,485.3 402.8,484.1 403.2,482.8 403.5,481.6 403.9,480.3 404.3,479.1 404.6,477.8 405.0,476.5 405.4,475.2 405.8,473.9 406.2,472.6 406.6,471.3 407.0,470.0 407.3,468.7 407.7,467.3 408.1,466.0 408.5,464.6 409.0,463.3 409.4,461.9 409.8,460.5 410.2,459.1 410.6,457.7 411.0,456.3 411.5,454.8 411.9,453.4 412.3,452.0 412.7,450.5 413.2,449.0 413.6,447.5 414.1,446.1 414.5,444.6 415.0,443.0 415.4,441.5 415.9,440.0 416.4,438.4 416.8,436.9 417.3,435.3 417.8,433.7 418.3,432.1 418.7,430.5 419.2,428.8 419.7,427.2 420.2,425.5 420.7,423.9 421.2,422.2 421.7,420.5 422.2,418.8 422.8,417.1 423.3,415.3 423.8,413.6 424.4,411.8 424.9,410.0 425.4,408.2 426.0,406.4 426.5,404.5 427.1,402.6 427.7,400.8 428.2,398.9 428.8,397.0 429.4,395.0 430.0,393.1 430.6,391.1 431.2,389.1 431.8,387.1 432.4,385.1 433.0,383.0 433.6,380.9 434.2,378.8 434.9,376.7 435.5,374.6 436.2,372.4 436.8,370.2 437.5,368.0 438.1,365.8 438.8,363.5 439.5,361.2 440.2,358.9 440.9,356.5 441.6,354.1 442.3,351.7 443.0,349.3 443.8,346.8 444.5,344.3 445.2,341.8 446.0,339.2 446.7,336.6 447.5,334.0 448.3,331.3 449.1,328.6 449.9,325.9 450.7,323.1 451.5,320.3 452.3,317.4 453.2,314.5 454.0,311.6 454.9,308.6 455.7,305.5 456.6,302.4 457.5,299.3 458.4,296.1 459.3,292.9 460.2,289.6 461.1,286.2 462.1,282.8 463.0,279.3 464.0,275.8 465.0,272.2 465.9,268.5 466.9,264.8 467.9,261.0 469.0,257.1 470.0,253.1 471.0,249.1 472.1,244.9 473.1,240.7 474.2,236.4 475.3,232.0 476.3,227.5 477.4,222.9 478.5,218.1 479.6,213.3 480.7,208.3 481.8,203.2 482.9,198.0 484.0,192.6 485.1,187.1 486.2,181.4 487.3,175.6 488.3,169.5 489.3,163.3 490.3,156.9 491.3,150.2 492.1,143.3 492.9,136.2 493.7,128.8 494.3,121.1 494.8,113.1 495.1,104.7 495.2,96.0 495.1,86.9 494.6,77.3 493.7,67.2 492.4,56.6 490.4,45.4" fill="none" stroke="#b8b8ff" stroke-width="0.6" opacity="0.6"/>
<polyline points="425.0,502.9 425.3,501.9 425.6,501.0 425.9,500.0 426.2,499.1 426.5,498.1 426.9,497.2 427.2,496.2 427.5,495.3 427.8,494.3 428.1,493.3 428.4,492.5 428.8,491.3 429.2,490.1 429.5,488.9 429.9,487.7 430.3,486.5 430.7,485.3 431.1,484.1 431.6,482.8 432.0,481.6 432.4,480.3 432.8,479.1 433.2,477.8 433.6,476.5 434.1,475.2 434.5,473.9 434.9,472.6 435.4,471.3 435.8,470.0 436.2,468.7 436.7,467.3 437.1,466.0 437.6,464.6 438.1,463.3 438.5,461.9 439.0,460.5 439.4,459.1 439.9,457.7 440.4,456.3 440.9,454.8 441.4,453.4 441.9,452.0 442.3,450.5 442.8,449.0 443.3,447.5 443.8,446.1 444.4,444.6 444.9,443.0 445.4,441.5 445.9,440.0 446.4,438.4 447.0,436.9 447.5,435.3 448.1,433.7 448.6,432.1 449.2,430.5 449.7,428.8 450.3,427.2 450.9,425.5 451.4,423.9 452.0,422.2 452.6,420.5 453.2,418.8 453.8,417.1 454.4,415.3 455.0,413.6 455.6,411.8 456.2,410.0 456.9,408.2 457.5,406.4 458.1,404.5 458.8,402.6 459.4,400.8 460.1,398.9 460.8,397.0 461.4,395.0 462.1,393.1 462.8,391.1 463.5,389.1 464.2,387.1 464.9,385.1 465.7,383.0 466.4,380.9 467.1,378.8 467.9,376.7 468.6,374.6 469.4,372.4 470.2,370.2 471.0,368.0 471.8,365.8 472.6,363.5 473.4,361.2 474.2,358.9 475.0,356.5 475.9,354.1 476.7,351.7 477.6,349.3 478.5,346.8 479.4,344.3 480.3,341.8 481.2,339.2 482.1,336.6 483.1,334.0 484.0,331.3 485.0,328.6 486.0,325.9 487.0,323.1 488.0,320.3 489.0,317.4 490.1,314.5 491.1,311.6 492.2,308.6 493.3,305.5 494.4,302.4 495.5,299.3 496.7,296.1 497.9,292.9 499.0,289.6 500.2,286.2 501.5,282.8 502.7,279.3 504.0,275.8 505.3,272.2 506.6,268.5 507.9,264.8 509.3,261.0 510.7,257.1 512.1,253.1 513.6,249.1 515.0,244.9 516.6,240.7 518.1,236.4 519.7,232.0 521.3,227.5 522.9,222.9 524.6,218.1 526.3,213.3 528.0,208.3 529.8,203.2 531.6,198.0 533.5,192.6 535.4,187.1 537.3,181.4 539.3,175.6 541.4,169.5 543.5,163.3 545.6,156.9 547.8,150.2 550.1,143.3 552.4,136.2 554.8,128.8 557.2,121.1 559.7,113.1 562.2,104.7 564.8,96.0 567.4,86.9 570.1,77.3 572.8,67.2 575.5,56.6 578.2,45.4" fill="none" stroke="#b8b8ff" stroke-width="0.6" opacity="0.6"/>
<polyline points="452.8,502.9 453.1,501.9 453.5,501.0 453.8,500.0 454.1,499.1 454.5,498.1 454.8,497.2 455.1,496.2 455.5,495.3 455.8,494.3 456.2,493.3 456.4,492.5 456.8,491.3 457.3,490.1 457.7,488.9 458.1,487.7 458.5,486.5 459.0,485.3 459.4,484.1 459.8,482.8 460.3,481.6 460.7,480.3 461.2,479.1 461.6,477.8 462.1,476.5 462.6,475.2 463.0,473.9 463.5,472.6 464.0,471.3 464.4,470.0 464.9,468.7 465.4,467.3 465.9,466.0 466.4,464.6 466.9,463.3 467.4,461.9 467.9,460.5 468.4,459.1 468.9,457.7 469.4,456.3 469.9,454.8 470.4,453.4 471.0,452.0 471.5,450.5 472.0,449.0 472.6,447.5 473.1,446.1 473.7,444.6 474.2,443.0 474.8,441.5 475.4,440.0 475.9,438.4 476.5,436.9 477.1,435.3 477.7,433.7 478.3,432.1 478.9,430.5 479.5,428.8 480.1,427.2 480.7,425.5 481.4,423.9 482.0,422.2 482.6,420.5 483.3,418.8 483.9,417.1 484.6,415.3 485.3,413.6 485.9,411.8 486.6,410.0 487.3,408.2 488.0,406.4 488.7,404.5 489.4,402.6 490.1,400.8 490.8,398.9 491.6,397.0 492.3,395.0 493.1,393.1 493.8,391.1 494.6,389.1 495.4,387.1 496.2,385.1 496.9,383.0 497.8,380.9 498.6,378.8 499.4,376.7 500.2,374.6 501.1,372.4 501.9,370.2 502.8,368.0 503.7,365.8 504.6,363.5 505.5,361.2 506.4,358.9 507.3,356.5 508.3,354.1 509.2,351.7 510.2,349.3 511.2,346.8 512.1,344.3 513.2,341.8 514.2,339.2 515.2,336.6 516.3,334.0 517.3,331.3 518.4,328.6 519.5,325.9 520.6,323.1 521.8,320.3 522.9,317.4 524.1,314.5 525.3,311.6 526.5,308.6 527.8,305.5 529.0,302.4 530.3,299.3 531.6,296.1 532.9,292.9 534.3,289.6 535.7,286.2 537.1,282.8 538.5,279.3 540.0,275.8 541.5,272.2 543.0,268.5 544.5,264.8 546.1,261.0 547.7,257.1 549.4,253.1 551.1,249.1 552.8,244.9 554.6,240.7 556.4,236.4 558.2,232.0 560.1,227.5 562.0,222.9 564.0,218.1 566.1,213.3 568.2,208.3 570.3,203.2 572.6,198.0 574.8,192.6 577.2,187.1 579.6,181.4 582.1,175.6 584.7,169.5 587.3,163.3 590.0,156.9 592.9,150.2 595.8,143.3 598.9,136.2 602.0,128.8 605.3,121.1 608.7,113.1 612.2,104.7 615.9,96.0 619.8,86.9 623.9,77.3 628.1,67.2 632.5,56.6 637.2,45.4" fill="none" stroke="#b8b8ff" stroke-width="0.6" opacity="0.6"/>
<polyline points="480.7,502.9 481.0,501.9 481.4,501.0 481.7,500.0 482.1,499.1 482.4,498.1 482.8,497.2 483.1,496.2 483.5,495.3 483.8,494.3 484.2,493.3 484.5,492.5 484.9,491.3 485.3,490.1 485.8,488.9 486.2,487.7 486.7,486.5 487.1,485.3 487.6,484.1 488.1,482.8 488.5,481.6 489.0,480.3 489.5,479.1 489.9,477.8 490.4,476.5 490.9,475.2 491.4,473.9 491.9,472.6 492.4,471.3 492.9,470.0 493.4,468.7 493.9,467.3 494.4,466.0 494.9,464.6 495.4,463.3 495.9,461.9 496.5,460.5 497.0,459.1 497.5,457.7 498.1,456.3 498.6,454.8 499.2,453.4 499.7,452.0 500.3,450.5 500.9,449.0 501.4,447.5 502.0,446.1 502.6,444.6 503.2,443.0 503.8,441.5 504.4,440.0 505.0,438.4 505.6,436.9 506.2,435.3 506.8,433.7 507.5,432.1 508.1,430.5 508.7,428.8 509.4,427.2 510.0,425.5 510.7,423.9 511.4,422.2 512.0,420.5 512.7,418.8 513.4,417.1 514.1,415.3 514.8,413.6 515.5,411.8 516.2,410.0 516.9,408.2 517.7,406.4 518.4,404.5 519.2,402.6 519.9,400.8 520.7,398.9 521.5,397.0 522.3,395.0 523.0,393.1 523.9,391.1 524.7,389.1 525.5,387.1 526.3,385.1 527.2,383.0 528.0,380.9 528.9,378.8 529.8,376.7 530.6,374.6 531.5,372.4 532.4,370.2 533.4,368.0 534.3,365.8 535.2,363.5 536.2,361.2 537.2,358.9 538.2,356.5 539.2,354.1 540.2,351.7 541.2,349.3 542.3,346.8 543.3,344.3 544.4,341.8 545.5,339.2 546.6,336.6 547.7,334.0 548.8,331.3 550.0,328.6 551.2,325.9 552.4,323.1 553.6,320.3 554.8,317.4 556.1,314.5 557.4,311.6 558.7,308.6 560.0,305.5 561.4,302.4 562.7,299.3 564.1,296.1 565.6,292.9 567.0,289.6 568.5,286.2 570.0,282.8 571.5,279.3 573.1,275.8 574.7,272.2 576.4,268.5 578.0,264.8 579.7,261.0 581.5,257.1 583.3,253.1 585.1,249.1 587.0,244.9 588.9,240.7 590.9,236.4 592.9,232.0 594.9,227.5 597.1,222.9 599.2,218.1 601.5,213.3 603.8,208.3 606.1,203.2 608.6,198.0 611.1,192.6 613.7,187.1 616.3,181.4 619.1,175.6 621.9,169.5 624.9,163.3 627.9,156.9 631.1,150.2 634.4,143.3 637.8,136.2 641.4,128.8 645.1,121.1 648.9,113.1 653.0,104.7 657.2,96.0 661.7,86.9 666.3,77.3 671.3,67.2 676.5,56.6 682.0,45.4" fill="none" stroke="#b8b8ff" stroke-width="0.6" opacity="0.6"/>
<polyline points="508.6,502.9 509.0,501.9 509.3,501.0 509.7,500.0 510.0,499.1 510.4,498.1 510.7,497.2 511.1,496.2 511.5,495.3 511.8,494.3 512.2,493.3 512.5,492.5 513.0,491.3 513.4,490.1 513.9,488.9 514.3,487.7 514.8,486.5 515.3,485.3 515.7,484.1 516.2,482.8 516.7,481.6 517.2,480.3 517.6,479.1 518.1,477.8 518.6,476.5 519.1,475.2 519.6,473.9 520.1,472.6 520.6,471.3 521.1,470.0 521.7,468.7 522.2,467.3 522.7,466.0 523.2,464.6 523.8,463.3 524.3,461.9 524.9,460.5 525.4,459.1 526.0,457.7 526.5,456.3 527.1,454.8 527.7,453.4 528.2,452.0 528.8,450.5 529.4,449.0 530.0,447.5 530.6,446.1 531.2,444.6 531.8,443.0 532.4,441.5 533.0,440.0 533.6,438.4 534.3,436.9 534.9,435.3 535.5,433.7 536.2,432.1 536.8,430.5 537.5,428.8 538.2,427.2 538.8,425.5 539.5,423.9 540.2,422.2 540.9,420.5 541.6,418.8 542.3,417.1 543.0,415.3 543.8,413.6 544.5,411.8 545.2,410.0 546.0,408.2 546.7,406.4 547.5,404.5 548.3,402.6 549.1,400.8 549.9,398.9 550.7,397.0 551.5,395.0 552.3,393.1 553.1,391.1 554.0,389.1 554.8,387.1 555.7,385.1 556.5,383.0 557.4,380.9 558.3,378.8 559.2,376.7 560.1,374.6 561.1,372.4 562.0,370.2 563.0,368.0 563.9,365.8 564.9,363.5 565.9,361.2 566.9,358.9 567.9,356.5 569.0,354.1 570.0,351.7 571.1,349.3 572.2,346.8 573.3,344.3 574.4,341.8 575.5,339.2 576.7,336.6 577.8,334.0 579.0,331.3 580.2,328.6 581.4,325.9 582.7,323.1 583.9,320.3 585.2,317.4 586.5,314.5 587.9,311.6 589.2,308.6 590.6,305.5 592.0,302.4 593.4,299.3 594.9,296.1 596.4,292.9 597.9,289.6 599.4,286.2 601.0,282.8 602.6,279.3 604.3,275.8 605.9,272.2 607.6,268.5 609.4,264.8 611.2,261.0 613.0,257.1 614.9,253.1 616.8,249.1 618.7,244.9 620.7,240.7 622.8,236.4 624.9,232.0 627.0,227.5 629.3,222.9 631.5,218.1 633.9,213.3 636.3,208.3 638.8,203.2 641.3,198.0 644.0,192.6 646.7,187.1 649.5,181.4 652.4,175.6 655.4,169.5 658.5,163.3 661.7,156.9 665.0,150.2 668.5,143.3 672.1,136.2 675.9,128.8 679.8,121.1 683.9,113.1 688.2,104.7 692.7,96.0 697.5,86.9 702.4,77.3 707.7,67.2 713.3,56.6 719.2,45.4" fill="none" stroke="#b8b8ff" stroke-width="0.6" opacity="0.6"/>
<polyline points="536.6,502.9 536.9,501.9 537.3,501.0 537.7,500.0 538.0,499.1 538.4,498.1 538.8,497.2 539.1,496.2 539.5,495.3 539.9,494.3 540.2,493.3 540.5,492.5 541.0,491.3 541.5,490.1 541.9,488.9 542.4,487.7 542.9,486.5 543.3,485.3 543.8,484.1 544.3,482.8 544.8,481.6 545.3,480.3 545.8,479.1 546.2,477.8 546.7,476.5 547.3,475.2 547.8,473.9 548.3,472.6 548.8,471.3 549.3,470.0 549.8,468.7 550.4,467.3 550.9,466.0 551.4,464.6 552.0,463.3 552.5,461.9 553.1,460.5 553.6,459.1 554.2,457.7 554.8,456.3 555.3,454.8 555.9,453.4 556.5,452.0 557.1,450.5 557.7,449.0 558.3,447.5 558.9,446.1 559.5,444.6 560.1,443.0 560.7,441.5 561.4,440.0 562.0,438.4 562.6,436.9 563.3,435.3 563.9,433.7 564.6,432.1 565.2,430.5 565.9,428.8 566.6,427.2 567.3,425.5 568.0,423.9 568.7,422.2 569.4,420.5 570.1,418.8 570.8,417.1 571.5,415.3 572.3,413.6 573.0,411.8 573.8,410.0 574.5,408.2 575.3,406.4 576.1,404.5 576.9,402.6 577.7,400.8 578.5,398.9 579.3,397.0 580.1,395.0 581.0,393.1 581.8,391.1 582.7,389.1 583.5,387.1 584.4,385.1 585.3,383.0 586.2,380.9 587.1,378.8 588.0,376.7 588.9,374.6 589.9,372.4 590.9,370.2 591.8,368.0 592.8,365.8 593.8,363.5 594.8,361.2 595.8,358.9 596.9,356.5 597.9,354.1 599.0,351.7 600.1,349.3 601.2,346.8 602.3,344.3 603.4,341.8 604.6,339.2 605.8,336.6 607.0,334.0 608.2,331.3 609.4,328.6 610.6,325.9 611.9,323.1 613.2,320.3 614.5,317.4 615.8,314.5 617.2,311.6 618.6,308.6 620.0,305.5 621.4,302.4 622.9,299.3 624.4,296.1 625.9,292.9 627.4,289.6 629.0,286.2 630.6,282.8 632.2,279.3 633.9,275.8 635.6,272.2 637.4,268.5 639.1,264.8 641.0,261.0 642.8,257.1 644.7,253.1 646.7,249.1 648.7,244.9 650.7,240.7 652.8,236.4 655.0,232.0 657.2,227.5 659.5,222.9 661.8,218.1 664.2,213.3 666.7,208.3 669.2,203.2 671.8,198.0 674.5,192.6 677.3,187.1 680.2,181.4 683.2,175.6 686.2,169.5 689.4,163.3 692.7,156.9 696.2,150.2 699.7,143.3 703.4,136.2 707.3,128.8 711.3,121.1 715.6,113.1 720.0,104.7 724.6,96.0 729.5,86.9 734.6,77.3 740.1,67.2 745.8,56.6 752.0,45.4" fill="none" stroke="#b8b8ff" stroke-width="0.6" opacity="0.6"/>
<polyline points="14.3,502.9 21.5,493.3 37.3,472.6 55.0,449.5 75.1,423.3 98.5,393.1" fill="none" stroke="#66bb66" stroke-width="0.6" opacity="0.4" stroke-dasharray="2,2"/>
<polyline points="72.8,502.9 79.8,493.3 94.9,472.6 111.9,449.5 131.3,423.3 153.9,393.1" fill="none" stroke="#66bb66" stroke-width="0.6" opacity="0.4" stroke-dasharray="2,2"/>
<polyline points="121.0,502.9 127.7,493.3 142.3,472.6 158.7,449.5 177.5,423.3 199.2,393.1" fill="none" stroke="#66bb66" stroke-width="0.6" opacity="0.4" stroke-dasharray="2,2"/>
<polyline points="172.8,502.9 179.3,493.3 193.3,472.6 209.0,449.5 227.0,423.3 248.0,393.1" fill="none" stroke="#66bb66" stroke-width="0.6" opacity="0.4" stroke-dasharray="2,2"/>
<polyline points="217.6,502.9 223.8,493.3 237.2,472.6 252.4,449.5 269.7,423.3 290.0,393.1" fill="none" stroke="#66bb66" stroke-width="0.6" opacity="0.4" stroke-dasharray="2,2"/>
<polyline points="247.5,502.9 253.5,493.3 266.6,472.6 281.4,449.5 298.3,423.3 318.0,393.1" fill="none" stroke="#66bb66" stroke-width="0.6" opacity="0.4" stroke-dasharray="2,2"/>
<polyline points="288.6,502.9 294.4,493.3 306.9,472.6 321.1,449.5 337.4,423.3 356.4,393.1" fill="none" stroke="#66bb66" stroke-width="0.6" opacity="0.4" stroke-dasharray="2,2"/>
<polyline points="325.6,502.9 331.1,493.3 343.2,472.6 356.9,449.5 372.6,423.3 390.9,393.1" fill="none" stroke="#66bb66" stroke-width="0.6" opacity="0.4" stroke-dasharray="2,2"/>
<polyline points="352.6,502.9 358.0,493.3 369.7,472.6 383.0,449.5 398.3,423.3 416.1,393.1" fill="none" stroke="#66bb66" stroke-width="0.6" opacity="0.4" stroke-dasharray="2,2"/>
<line x1="-618.8" y1="502.5" x2="-125.3" y2="41.3" stroke="#bdbdbd" stroke-width="0.8"/>
<line x1="-562.8" y1="502.5" x2="-69.3" y2="41.3" stroke="#bdbdbd" stroke-width="0.8"/>
<line x1="-506.7" y1="502.5" x2="-13.2" y2="41.3" stroke="#bdbdbd" stroke-width="0.8"/>
<line x1="-450.7" y1="502.5" x2="42.8" y2="41.3" stroke="#bdbdbd" stroke-width="0.8"/>
<line x1="-394.6" y1="502.5" x2="98.9" y2="41.3" stroke="#bdbdbd" stroke-width="0.8"/>
<line x1="-338.5" y1="502.5" x2="155.0" y2="41.3" stroke="#bdbdbd" stroke-width="0.8"/>
<line x1="-282.5" y1="502.5" x2="211.0" y2="41.3" stroke="#bdbdbd" stroke-width="0.8"/>
<line x1="-226.4" y1="502.5" x2="267.1" y2="41.3" stroke="#bdbdbd" stroke-width="0.8"/>
<line x1="-170.4" y1="502.5" x2="323.1" y2="41.3" stroke="#bdbdbd" stroke-width="0.8"/>
<line x1="-114.3" y1="502.5" x2="379.2" y2="41.3" stroke="#bdbdbd" stroke-width="0.8"/>
<line x1="-58.2" y1="502.5" x2="435.3" y2="41.3" stroke="#bdbdbd" stroke-width="0.8"/>
<line x1="-2.2" y1="502.5" x2="491.3" y2="41.3" stroke="#bdbdbd" stroke-width="0.8"/>
<line x1="53.9" y1="502.5" x2="547.4" y2="41.3" stroke="#bdbdbd" stroke-width="0.8"/>
<line x1="109.9" y1="502.5" x2="603.4" y2="41.3" stroke="#bdbdbd" stroke-width="0.8"/>
<line x1="166.0" y1="502.5" x2="659.5" y2="41.3" stroke="#bdbdbd" stroke-width="0.8"/>
<line x1="222.1" y1="502.5" x2="715.6" y2="41.3" stroke="#bdbdbd" stroke-width="0.8"/>
<line x1="278.1" y1="502.5" x2="771.6" y2="41.3" stroke="#bdbdbd" stroke-width="0.8"/>
<line x1="334.2" y1="502.5" x2="827.7" y2="41.3" stroke="#bdbdbd" stroke-width="0.8"/>
<line x1="390.2" y1="502.5" x2="883.7" y2="41.3" stroke="#bdbdbd" stroke-width="0.8"/>
<line x1="446.3" y1="502.5" x2="939.8" y2="41.3" stroke="#bdbdbd" stroke-width="0.8"/>
<line x1="502.4" y1="502.5" x2="995.9" y2="41.3" stroke="#bdbdbd" stroke-width="0.8"/>
<line x1="558.4" y1="502.5" x2="1051.9" y2="41.3" stroke="#bdbdbd" stroke-width="0.8"/>
<line x1="53.9" y1="502.5" x2="547.4" y2="41.3" stroke="#6a6aee" stroke-width="0.9" stroke-dasharray="3,1.5"/>
<line x1="166.0" y1="502.5" x2="659.5" y2="41.3" stroke="#6a6aee" stroke-width="0.9" stroke-dasharray="3,1.5"/>
<line x1="13.5" y1="41.5" x2="543.6" y2="41.5" stroke="#d0d0d0" stroke-width="1.2"/>
<line x1="13.5" y1="177.5" x2="543.6" y2="177.5" stroke="#d0d0d0" stroke-width="1.2"/>
<line x1="13.5" y1="257.1" x2="543.6" y2="257.1" stroke="#d0d0d0" stroke-width="1.2"/>
<line x1="13.5" y1="313.5" x2="543.6" y2="313.5" stroke="#d0d0d0" stroke-width="1.2"/>
<line x1="13.5" y1="357.3" x2="543.6" y2="357.3" stroke="#d0d0d0" stroke-width="1.2"/>
<line x1="13.5" y1="393.1" x2="543.6" y2="393.1" stroke="#d0d0d0" stroke-width="1.2"/>
<line x1="13.5" y1="423.3" x2="543.6" y2="423.3" stroke="#d0d0d0" stroke-width="1.2"/>
<line x1="13.5" y1="449.5" x2="543.6" y2="449.5" stroke="#d0d0d0" stroke-width="1.2"/>
<line x1="13.5" y1="472.6" x2="543.6" y2="472.6" stroke="#d0d0d0" stroke-width="1.2"/>
<line x1="13.5" y1="493.3" x2="543.6" y2="493.3" stroke="#d0d0d0" stroke-width="1.2"/>
</g>
<g clip-path="url(#cs)">
<polyline points="102.7,41.0 156.4,165.0 207.8,230.0 234.7,280.0 254.2,317.0 264.0,332.7 277.7,366.0 285.5,397.0 292.0,430.0 295.3,468.4 321.9,487.2" fill="none" stroke="#a0a0a0" stroke-width="1.0" stroke-dasharray="4,2.5"/>
<polyline points="107.6,41.0 165.2,165.0 211.0,230.0 238.0,280.0 257.0,317.0 267.0,333.0 280.5,366.0 288.0,397.0 295.0,430.0 298.0,470.0 300.0,482.0" fill="none" stroke="#a0a0a0" stroke-width="1.0" stroke-dasharray="4,2.5"/>
<polyline points="258.0,366.0 264.8,395.0 270.0,430.0 274.0,460.0 275.8,487.2" fill="none" stroke="#b070c0" stroke-width="0.8" stroke-dasharray="1.2,1.2"/>
<polyline points="225.5,238.0 233.0,254.0 241.0,281.0 255.2,313.2 256.2,324.9 249.3,338.6 254.2,362.0 268.9,377.7 270.5,395.0 273.4,426.0 275.0,460.6 282.0,467.7 279.7,477.8 286.0,487.2" fill="none" stroke="#6495ed" stroke-width="1.0" />
<polyline points="276.0,35.0 272.6,41.0 259.0,53.7 255.6,59.6 267.3,85.0 258.9,88.9 261.5,112.3 257.0,118.1 236.5,121.1 227.7,126.9 229.1,146.5 231.6,159.2 204.5,163.9 213.2,175.6 213.2,180.5 207.4,184.4 207.4,197.1 216.2,208.8 219.1,218.6 221.0,221.5 225.0,231.3 225.9,238.1 233.8,253.8 246.4,285.0 255.2,305.4 258.1,324.9 254.3,332.7 258.9,344.5 279.7,365.9 288.3,379.6 307.5,402.5 291.7,406.2 309.3,427.0 344.3,460.6 344.3,465.3 326.3,469.2 329.4,478.6 306.0,480.6 298.2,484.0 300.5,488.8" fill="none" stroke="#a03030" stroke-width="2.2" stroke-dasharray="1.6,2.4" stroke-linecap="butt"/>
<polyline points="173.0,38.0 171.1,41.0 165.2,51.7 154.5,59.6 149.6,83.0 152.1,88.9 137.9,110.3 102.7,119.1 210.1,126.9 201.3,136.7 209.1,146.5 200.4,149.4 197.4,161.1 177.1,163.9 186.9,181.5 183.0,184.4 191.8,204.9 202.5,219.6 186.9,222.5 204.5,230.3 185.9,233.8 204.5,233.5 207.4,235.2 218.1,243.0 215.2,253.8 224.0,261.6 232.7,280.0 238.6,303.4 250.3,322.0 247.4,332.7 221.0,347.4 214.2,368.9 250.3,378.6 235.9,402.0 253.9,406.2 245.3,423.1 248.4,427.8 232.0,460.6 258.6,467.7 255.5,478.6 276.6,480.9 282.8,484.0 284.4,488.8" fill="none" stroke="#6495ed" stroke-width="3.0" stroke-linejoin="round"/>
<polyline points="276.0,35.0 272.6,41.0 259.0,53.7 255.6,59.6 267.3,85.0 258.9,88.9 261.5,112.3 257.0,118.1 236.5,121.1 227.7,126.9 229.1,146.5 231.6,159.2 204.5,163.9 213.2,175.6 213.2,180.5 207.4,184.4 207.4,197.1 216.2,208.8 219.1,218.6 221.0,221.5 225.0,231.3 225.9,238.1 233.8,253.8 246.4,285.0 255.2,305.4 258.1,324.9 254.2,332.7 258.1,344.5 277.7,365.9 285.5,379.6 303.5,402.5 287.5,406.2 303.9,427.0 338.3,460.6 338.3,465.3 320.3,469.2 323.4,478.6 300.0,480.6 292.2,484.0 294.5,488.8" fill="none" stroke="#ff0000" stroke-width="3.0" stroke-linejoin="round"/>
<polyline points="114.4,41.0 175.0,165.0 231.8,253.8 247.4,280.0 262.0,327.0 271.8,354.0 285.5,389.0 288.4,405.0 300.0,480.0 307.8,487.2" fill="none" stroke="#ff1a1a" stroke-width="1.6" stroke-dasharray="5,3"/>
</g>
<line x1="519.4" y1="64.5" x2="519.4" y2="497.3" stroke="#777" stroke-width="0.7" stroke-dasharray="1,1"/>
<g stroke="#000" stroke-width="0.9" fill="none">
<line x1="519.4" y1="89.2" x2="505.6" y2="101.5"/><line x1="505.6" y1="101.5" x2="499.1" y2="97.2"/><line x1="507.2" y1="100.0" x2="500.8" y2="95.8"/><line x1="508.9" y1="98.6" x2="505.6" y2="96.4"/><circle cx="519.4" cy="89.2" r="1.6" fill="#000" stroke="none"/>
<line x1="519.4" y1="110.9" x2="501.7" y2="115.9"/><line x1="501.7" y1="115.9" x2="497.7" y2="109.2"/><line x1="503.8" y1="115.3" x2="499.9" y2="108.6"/><line x1="505.9" y1="114.7" x2="502.0" y2="108.0"/><line x1="508.1" y1="114.1" x2="504.1" y2="107.4"/><line x1="510.2" y1="113.5" x2="508.2" y2="110.2"/><circle cx="519.4" cy="110.9" r="1.6" fill="#000" stroke="none"/>
<line x1="519.4" y1="119.0" x2="501.7" y2="121.8"/><polygon points="501.7,121.8 505.2,121.3 502.3,114.1" fill="#000" stroke="none"/><circle cx="519.4" cy="119.0" r="1.6" fill="#000" stroke="none"/>
<line x1="519.4" y1="131.7" x2="502.0" y2="138.0"/><polygon points="502.0,138.0 505.3,136.8 501.1,130.4" fill="#000" stroke="none"/><line x1="506.2" y1="136.5" x2="501.8" y2="130.1"/><line x1="508.3" y1="135.7" x2="506.1" y2="132.5"/><circle cx="519.4" cy="131.7" r="1.6" fill="#000" stroke="none"/>
<line x1="519.4" y1="146.1" x2="502.0" y2="153.0"/><polygon points="502.0,153.0 505.3,151.7 500.9,145.4" fill="#000" stroke="none"/><line x1="506.2" y1="151.3" x2="501.6" y2="145.1"/><line x1="508.2" y1="150.5" x2="505.9" y2="147.4"/><circle cx="519.4" cy="146.1" r="1.6" fill="#000" stroke="none"/>
<line x1="519.4" y1="161.2" x2="502.0" y2="169.8"/><polygon points="502.0,169.8 505.1,168.2 500.2,162.3" fill="#000" stroke="none"/><line x1="506.0" y1="167.8" x2="500.9" y2="162.0"/><line x1="508.0" y1="166.8" x2="505.4" y2="163.9"/><circle cx="519.4" cy="161.2" r="1.6" fill="#000" stroke="none"/>
<line x1="519.4" y1="172.9" x2="503.0" y2="180.0"/><polygon points="503.0,180.0 506.2,178.6 501.6,172.4" fill="#000" stroke="none"/><line x1="507.1" y1="178.2" x2="502.3" y2="172.1"/><line x1="509.1" y1="177.3" x2="506.7" y2="174.3"/><circle cx="519.4" cy="172.9" r="1.6" fill="#000" stroke="none"/>
<line x1="519.4" y1="184.4" x2="504.5" y2="195.5"/><polygon points="504.5,195.5 507.3,193.4 501.4,188.4" fill="#000" stroke="none"/><line x1="508.1" y1="192.8" x2="505.1" y2="190.4"/><circle cx="519.4" cy="184.4" r="1.6" fill="#000" stroke="none"/>
<line x1="519.4" y1="200.4" x2="508.2" y2="215.6"/><polygon points="508.2,215.6 510.3,212.8 503.2,209.7" fill="#000" stroke="none"/><line x1="510.9" y1="212.0" x2="507.3" y2="210.6"/><circle cx="519.4" cy="200.4" r="1.6" fill="#000" stroke="none"/>
<line x1="519.4" y1="212.8" x2="508.4" y2="227.7"/><polygon points="508.4,227.7 510.5,224.9 503.4,221.8" fill="#000" stroke="none"/><line x1="511.1" y1="224.1" x2="507.5" y2="222.7"/><circle cx="519.4" cy="212.8" r="1.6" fill="#000" stroke="none"/>
<line x1="519.4" y1="230.0" x2="512.6" y2="247.5"/><line x1="512.6" y1="247.5" x2="504.9" y2="246.6"/><line x1="513.4" y1="245.4" x2="505.7" y2="244.6"/><line x1="514.2" y1="243.4" x2="506.5" y2="242.5"/><circle cx="519.4" cy="230.0" r="1.6" fill="#000" stroke="none"/>
<line x1="519.4" y1="243.2" x2="511.0" y2="259.5"/><line x1="511.0" y1="259.5" x2="503.4" y2="257.8"/><line x1="512.0" y1="257.5" x2="504.4" y2="255.9"/><line x1="513.0" y1="255.6" x2="505.4" y2="253.9"/><line x1="514.0" y1="253.6" x2="510.2" y2="252.8"/><circle cx="519.4" cy="243.2" r="1.6" fill="#000" stroke="none"/>
<line x1="519.4" y1="256.4" x2="505.8" y2="269.8"/><line x1="505.8" y1="269.8" x2="499.1" y2="265.9"/><line x1="507.4" y1="268.3" x2="500.7" y2="264.3"/><line x1="508.9" y1="266.7" x2="502.2" y2="262.8"/><line x1="510.5" y1="265.2" x2="503.8" y2="261.2"/><circle cx="519.4" cy="256.4" r="1.6" fill="#000" stroke="none"/>
<line x1="519.4" y1="266.0" x2="504.0" y2="276.7"/><line x1="504.0" y1="276.7" x2="498.1" y2="271.7"/><line x1="505.8" y1="275.4" x2="499.9" y2="270.4"/><line x1="507.6" y1="274.2" x2="501.7" y2="269.2"/><line x1="509.4" y1="272.9" x2="503.5" y2="267.9"/><circle cx="519.4" cy="266.0" r="1.6" fill="#000" stroke="none"/>
<line x1="519.4" y1="287.0" x2="502.3" y2="295.6"/><line x1="502.3" y1="295.6" x2="497.1" y2="289.8"/><line x1="504.3" y1="294.6" x2="499.1" y2="288.8"/><line x1="506.2" y1="293.6" x2="501.1" y2="287.8"/><circle cx="519.4" cy="287.0" r="1.6" fill="#000" stroke="none"/>
<line x1="519.4" y1="299.0" x2="502.3" y2="305.0"/><line x1="502.3" y1="305.0" x2="497.9" y2="298.6"/><line x1="504.4" y1="304.3" x2="500.0" y2="297.9"/><line x1="506.5" y1="303.5" x2="504.3" y2="300.3"/><circle cx="519.4" cy="299.0" r="1.6" fill="#000" stroke="none"/>
<line x1="519.4" y1="312.8" x2="501.5" y2="317.0"/><line x1="501.5" y1="317.0" x2="497.8" y2="310.2"/><line x1="503.6" y1="316.5" x2="500.0" y2="309.7"/><line x1="505.8" y1="316.0" x2="502.1" y2="309.2"/><circle cx="519.4" cy="312.8" r="1.6" fill="#000" stroke="none"/>
<line x1="519.4" y1="323.1" x2="502.3" y2="325.7"/><line x1="502.3" y1="325.7" x2="499.2" y2="318.6"/><line x1="504.5" y1="325.4" x2="501.4" y2="318.3"/><line x1="506.7" y1="325.0" x2="503.5" y2="317.9"/><circle cx="519.4" cy="323.1" r="1.6" fill="#000" stroke="none"/>
<line x1="519.4" y1="341.5" x2="501.5" y2="335.8"/><polygon points="501.5,335.8 504.8,336.9 505.4,329.2" fill="#000" stroke="none"/><line x1="505.8" y1="337.2" x2="506.0" y2="333.3"/><circle cx="519.4" cy="341.5" r="1.6" fill="#000" stroke="none"/>
<line x1="519.4" y1="356.6" x2="502.0" y2="350.6"/><polygon points="502.0,350.6 505.3,351.7 506.1,344.1" fill="#000" stroke="none"/><circle cx="519.4" cy="356.6" r="1.6" fill="#000" stroke="none"/>
<line x1="519.4" y1="369.0" x2="501.5" y2="364.3"/><line x1="501.5" y1="364.3" x2="501.5" y2="356.5"/><line x1="503.6" y1="364.9" x2="503.6" y2="357.1"/><line x1="505.8" y1="365.4" x2="505.7" y2="357.7"/><line x1="507.9" y1="366.0" x2="507.9" y2="358.2"/><line x1="510.0" y1="366.5" x2="510.0" y2="362.7"/><circle cx="519.4" cy="369.0" r="1.6" fill="#000" stroke="none"/>
<line x1="519.4" y1="378.4" x2="501.5" y2="375.3"/><line x1="501.5" y1="375.3" x2="500.8" y2="367.6"/><line x1="503.7" y1="375.7" x2="503.0" y2="367.9"/><line x1="505.8" y1="376.1" x2="505.1" y2="368.3"/><line x1="508.0" y1="376.4" x2="507.3" y2="368.7"/><line x1="510.2" y1="376.8" x2="509.8" y2="372.9"/><circle cx="519.4" cy="378.4" r="1.6" fill="#000" stroke="none"/>
<line x1="519.4" y1="397.7" x2="501.5" y2="395.6"/><polygon points="501.5,395.6 505.0,396.0 504.1,388.4" fill="#000" stroke="none"/><circle cx="519.4" cy="397.7" r="1.6" fill="#000" stroke="none"/>
<line x1="519.4" y1="406.8" x2="498.0" y2="411.0"/><line x1="498.0" y1="411.0" x2="494.6" y2="404.0"/><line x1="500.2" y1="410.6" x2="496.8" y2="403.6"/><line x1="502.3" y1="410.2" x2="498.9" y2="403.2"/><line x1="504.5" y1="409.7" x2="501.1" y2="402.8"/><circle cx="519.4" cy="406.8" r="1.6" fill="#000" stroke="none"/>
<line x1="519.4" y1="422.7" x2="501.0" y2="425.5"/><line x1="501.0" y1="425.5" x2="497.9" y2="418.4"/><line x1="503.2" y1="425.2" x2="500.1" y2="418.1"/><line x1="505.3" y1="424.8" x2="502.2" y2="417.7"/><line x1="507.5" y1="424.5" x2="504.4" y2="417.4"/><circle cx="519.4" cy="422.7" r="1.6" fill="#000" stroke="none"/>
<line x1="519.4" y1="428.1" x2="501.0" y2="432.6"/><line x1="501.0" y1="432.6" x2="497.3" y2="425.8"/><line x1="503.1" y1="432.1" x2="499.4" y2="425.3"/><line x1="505.3" y1="431.6" x2="501.5" y2="424.7"/><line x1="507.4" y1="431.0" x2="503.7" y2="424.2"/><circle cx="519.4" cy="428.1" r="1.6" fill="#000" stroke="none"/>
<line x1="519.4" y1="458.9" x2="505.3" y2="466.3"/><line x1="505.3" y1="466.3" x2="500.0" y2="460.6"/><line x1="507.2" y1="465.3" x2="502.0" y2="459.6"/><line x1="509.2" y1="464.3" x2="503.9" y2="458.5"/><line x1="511.1" y1="463.2" x2="508.5" y2="460.4"/><circle cx="519.4" cy="458.9" r="1.6" fill="#000" stroke="none"/>
<line x1="519.4" y1="464.9" x2="503.9" y2="474.8"/><line x1="503.9" y1="474.8" x2="498.2" y2="469.6"/><line x1="505.8" y1="473.6" x2="500.0" y2="468.4"/><line x1="507.6" y1="472.4" x2="501.9" y2="467.2"/><circle cx="519.4" cy="464.9" r="1.6" fill="#000" stroke="none"/>
<line x1="519.4" y1="478.7" x2="504.6" y2="488.8"/><line x1="504.6" y1="488.8" x2="498.7" y2="483.7"/><circle cx="519.4" cy="478.7" r="1.6" fill="#000" stroke="none"/>
<line x1="519.4" y1="487.7" x2="527.8" y2="502.9"/><circle cx="519.4" cy="487.7" r="1.6" fill="#000" stroke="none"/>
</g>
<rect x="13.5" y="41.3" width="530.1" height="461.2" fill="none" stroke="#6a6a6a" stroke-width="1"/>
<text x="16.58" y="180.21" font-size="8.11" font-weight="bold" fill="#000" stroke="#000" stroke-width="0.25" textLength="15.40" lengthAdjust="spacingAndGlyphs" >200</text>
<line x1="13.5" y1="177.5" x2="16" y2="177.5" stroke="#333" stroke-width="0.8"/>
<text x="16.69" y="259.76" font-size="8.11" font-weight="bold" fill="#000" stroke="#000" stroke-width="0.25" textLength="15.29" lengthAdjust="spacingAndGlyphs" >300</text>
<line x1="13.5" y1="257.1" x2="16" y2="257.1" stroke="#333" stroke-width="0.8"/>
<text x="16.76" y="316.21" font-size="8.11" font-weight="bold" fill="#000" stroke="#000" stroke-width="0.25" textLength="15.21" lengthAdjust="spacingAndGlyphs" >400</text>
<line x1="13.5" y1="313.5" x2="16" y2="313.5" stroke="#333" stroke-width="0.8"/>
<text x="16.62" y="359.99" font-size="8.11" font-weight="bold" fill="#000" stroke="#000" stroke-width="0.25" textLength="15.36" lengthAdjust="spacingAndGlyphs" >500</text>
<line x1="13.5" y1="357.3" x2="16" y2="357.3" stroke="#333" stroke-width="0.8"/>
<text x="16.56" y="395.76" font-size="8.11" font-weight="bold" fill="#000" stroke="#000" stroke-width="0.25" textLength="15.42" lengthAdjust="spacingAndGlyphs" >600</text>
<line x1="13.5" y1="393.1" x2="16" y2="393.1" stroke="#333" stroke-width="0.8"/>
<text x="16.50" y="426.00" font-size="8.11" font-weight="bold" fill="#000" stroke="#000" stroke-width="0.25" textLength="15.48" lengthAdjust="spacingAndGlyphs" >700</text>
<line x1="13.5" y1="423.3" x2="16" y2="423.3" stroke="#333" stroke-width="0.8"/>
<text x="16.61" y="452.20" font-size="8.11" font-weight="bold" fill="#000" stroke="#000" stroke-width="0.25" textLength="15.37" lengthAdjust="spacingAndGlyphs" >800</text>
<line x1="13.5" y1="449.5" x2="16" y2="449.5" stroke="#333" stroke-width="0.8"/>
<text x="16.58" y="475.31" font-size="8.11" font-weight="bold" fill="#000" stroke="#000" stroke-width="0.25" textLength="15.40" lengthAdjust="spacingAndGlyphs" >900</text>
<line x1="13.5" y1="472.6" x2="16" y2="472.6" stroke="#333" stroke-width="0.8"/>
<text x="16.29" y="495.98" font-size="8.11" font-weight="bold" fill="#000" stroke="#000" stroke-width="0.25" textLength="21.51" lengthAdjust="spacingAndGlyphs" >1000</text>
<line x1="13.5" y1="493.3" x2="16" y2="493.3" stroke="#333" stroke-width="0.8"/>
<rect x="46.1" y="498.6" width="4.6" height="1.0" fill="#000"/>
<text x="51.15" y="501.80" font-size="8.58" font-weight="bold" fill="#000" stroke="#000" stroke-width="0.25" textLength="10.73" lengthAdjust="spacingAndGlyphs" >20</text>
<rect x="102.1" y="498.6" width="4.6" height="1.0" fill="#000"/>
<text x="106.92" y="501.80" font-size="8.58" font-weight="bold" fill="#000" stroke="#000" stroke-width="0.25" textLength="11.03" lengthAdjust="spacingAndGlyphs" >10</text>
<text x="163.10" y="501.80" font-size="8.58" font-weight="bold" fill="#000" stroke="#000" stroke-width="0.25" textLength="5.61" lengthAdjust="spacingAndGlyphs" >0</text>
<text x="216.67" y="501.80" font-size="8.58" font-weight="bold" fill="#000" stroke="#000" stroke-width="0.25" textLength="10.37" lengthAdjust="spacingAndGlyphs" >10</text>
<text x="273.01" y="501.80" font-size="8.58" font-weight="bold" fill="#000" stroke="#000" stroke-width="0.25" textLength="10.09" lengthAdjust="spacingAndGlyphs" >20</text>
<text x="329.17" y="501.80" font-size="8.58" font-weight="bold" fill="#000" stroke="#000" stroke-width="0.25" textLength="9.97" lengthAdjust="spacingAndGlyphs" >30</text>
<text x="385.31" y="501.80" font-size="8.58" font-weight="bold" fill="#000" stroke="#000" stroke-width="0.25" textLength="9.90" lengthAdjust="spacingAndGlyphs" >40</text>
<text x="441.22" y="501.80" font-size="8.58" font-weight="bold" fill="#000" stroke="#000" stroke-width="0.25" textLength="10.05" lengthAdjust="spacingAndGlyphs" >50</text>
<text x="497.23" y="501.80" font-size="8.58" font-weight="bold" fill="#000" stroke="#000" stroke-width="0.25" textLength="10.11" lengthAdjust="spacingAndGlyphs" >60</text>
<text x="37.77" y="146.88" font-size="7.92" font-weight="normal" fill="#555" textLength="20.17" lengthAdjust="spacingAndGlyphs" >13km</text>
<text x="38.01" y="265.18" font-size="7.92" font-weight="normal" fill="#555" textLength="15.53" lengthAdjust="spacingAndGlyphs" >9km</text>
<text x="37.98" y="319.28" font-size="7.92" font-weight="normal" fill="#555" textLength="15.57" lengthAdjust="spacingAndGlyphs" >7km</text>
<text x="38.07" y="370.68" font-size="7.92" font-weight="normal" fill="#555" textLength="15.47" lengthAdjust="spacingAndGlyphs" >5km</text>
<text x="38.09" y="419.18" font-size="7.92" font-weight="normal" fill="#555" textLength="15.45" lengthAdjust="spacingAndGlyphs" >3km</text>
<text x="37.76" y="466.08" font-size="7.92" font-weight="normal" fill="#555" textLength="15.79" lengthAdjust="spacingAndGlyphs" >1km</text>
<text x="38.10" y="488.88" font-size="7.92" font-weight="bold" fill="#777" stroke="#777" stroke-width="0.25" textLength="49.41" lengthAdjust="spacingAndGlyphs" >-SFC (270m) -</text>
<text x="150.17" y="177.70" font-size="9.90" font-weight="normal" fill="#6cb56c" textLength="16.63" lengthAdjust="spacingAndGlyphs" >55%</text>
<line x1="170.6" y1="175.0" x2="173.8" y2="175.0" stroke="#6cb56c" stroke-width="1.0"/><polygon points="175.9,175.0 173.5,173.3 173.5,176.7" fill="#6cb56c"/>
<text x="187.87" y="264.70" font-size="9.90" font-weight="normal" fill="#6cb56c" textLength="16.73" lengthAdjust="spacingAndGlyphs" >79%</text>
<line x1="208.4" y1="262.0" x2="211.6" y2="262.0" stroke="#6cb56c" stroke-width="1.0"/><polygon points="213.7,262.0 211.3,260.3 211.3,263.7" fill="#6cb56c"/>
<text x="188.97" y="346.00" font-size="9.90" font-weight="normal" fill="#6cb56c" textLength="16.63" lengthAdjust="spacingAndGlyphs" >59%</text>
<line x1="209.4" y1="343.3" x2="212.6" y2="343.3" stroke="#6cb56c" stroke-width="1.0"/><polygon points="214.7,343.3 212.3,341.6 212.3,345.0" fill="#6cb56c"/>
<text x="211.17" y="420.00" font-size="9.90" font-weight="normal" fill="#6cb56c" textLength="16.63" lengthAdjust="spacingAndGlyphs" >52%</text>
<line x1="231.6" y1="417.3" x2="234.8" y2="417.3" stroke="#6cb56c" stroke-width="1.0"/><polygon points="236.9,417.3 234.5,415.6 234.5,419.0" fill="#6cb56c"/>
<text x="207.98" y="466.10" font-size="9.90" font-weight="normal" fill="#6cb56c" textLength="16.61" lengthAdjust="spacingAndGlyphs" >34%</text>
<line x1="228.4" y1="463.4" x2="231.6" y2="463.4" stroke="#6cb56c" stroke-width="1.0"/><polygon points="233.7,463.4 231.3,461.7 231.3,465.1" fill="#6cb56c"/>
<line x1="270.0" y1="308.3" x2="273.5" y2="308.3" stroke="#f07878" stroke-width="1.0"/><polygon points="267.9,308.3 270.3,306.6 270.3,310.0" fill="#f07878"/>
<text x="274.38" y="311.26" font-size="9.46" font-weight="normal" fill="#f07878" textLength="24.36" lengthAdjust="spacingAndGlyphs" >79J/kg</text>
<line x1="305.1" y1="342.9" x2="308.6" y2="342.9" stroke="#f07878" stroke-width="1.0"/><polygon points="303.0,342.9 305.4,341.2 305.4,344.6" fill="#f07878"/>
<text x="309.57" y="345.86" font-size="9.46" font-weight="normal" fill="#f07878" textLength="25.28" lengthAdjust="spacingAndGlyphs" >30J/kg</text>
<text x="265.29" y="495.68" font-size="7.92" font-weight="bold" fill="#6495ed" stroke="#6495ed" stroke-width="0.25" textLength="17.81" lengthAdjust="spacingAndGlyphs" >64°F</text>
<text x="294.18" y="495.68" font-size="7.92" font-weight="bold" fill="#ff3030" stroke="#ff3030" stroke-width="0.25" textLength="18.64" lengthAdjust="spacingAndGlyphs" >68°F</text>
<text x="72.64" y="270.09" font-size="9.24" font-weight="bold" fill="#8fcc8f" stroke="#8fcc8f" stroke-width="0.25" textLength="17.70" lengthAdjust="spacingAndGlyphs" >HGZ</text>
<line x1="81.75" y1="273.8" x2="81.75" y2="355.5" stroke="#7cc47c" stroke-width="1.6"/>
<text x="89.68" y="411.19" font-size="9.24" font-weight="normal" fill="#eca0a0" textLength="13.53" lengthAdjust="spacingAndGlyphs" >8.5</text>
<line x1="97.6" y1="412.2" x2="97.6" y2="460" stroke="#f09a9a" stroke-width="0.9"/>
<line x1="450.4" y1="260.3" x2="454.1" y2="260.3" stroke="#8c8c8c" stroke-width="1.3"/><polygon points="447.9,260.3 450.7,258.3 450.7,262.3" fill="#8c8c8c"/>
<text x="455.15" y="263.26" font-size="9.46" font-weight="bold" fill="#8c8c8c" stroke="#8c8c8c" stroke-width="0.25" textLength="35.86" lengthAdjust="spacingAndGlyphs" >MUMPL</text>
<line x1="450.4" y1="307.5" x2="454.1" y2="307.5" stroke="#8c8c8c" stroke-width="1.3"/><polygon points="447.9,307.5 450.7,305.5 450.7,309.5" fill="#8c8c8c"/>
<text x="455.18" y="310.46" font-size="9.46" font-weight="bold" fill="#8c8c8c" stroke="#8c8c8c" stroke-width="0.25" textLength="26.41" lengthAdjust="spacingAndGlyphs" >MUEL</text>
<line x1="450.4" y1="361.3" x2="454.1" y2="361.3" stroke="#8c8c8c" stroke-width="1.3"/><polygon points="447.9,361.3 450.7,359.3 450.7,363.3" fill="#8c8c8c"/>
<text x="455.17" y="364.26" font-size="9.46" font-weight="bold" fill="#8c8c8c" stroke="#8c8c8c" stroke-width="0.25" textLength="32.89" lengthAdjust="spacingAndGlyphs" >MULFC</text>
<line x1="450.4" y1="479.8" x2="454.1" y2="479.8" stroke="#8c8c8c" stroke-width="1.3"/><polygon points="447.9,479.8 450.7,477.8 450.7,481.8" fill="#8c8c8c"/>
<text x="455.54" y="482.71" font-size="9.46" font-weight="bold" fill="#8c8c8c" stroke="#8c8c8c" stroke-width="0.25" textLength="29.73" lengthAdjust="spacingAndGlyphs" >SBLCL</text>
<line x1="421.2" y1="383.2" x2="423.6" y2="383.2" stroke="#7ea6ec" stroke-width="1.0"/><polygon points="419.3,383.2 421.5,381.6 421.5,384.8" fill="#7ea6ec"/>
<text x="424.08" y="385.68" font-size="7.92" font-weight="bold" fill="#7ea6ec" stroke="#7ea6ec" stroke-width="0.25" textLength="15.15" lengthAdjust="spacingAndGlyphs" >FRZ</text>
<line x1="421.2" y1="400.5" x2="423.6" y2="400.5" stroke="#7ea6ec" stroke-width="1.0"/><polygon points="419.3,400.5 421.5,398.9 421.5,402.1" fill="#7ea6ec"/>
<text x="424.59" y="402.98" font-size="7.92" font-weight="bold" fill="#7ea6ec" stroke="#7ea6ec" stroke-width="0.25" textLength="17.43" lengthAdjust="spacingAndGlyphs" >WB0</text>
<line x1="428.1" y1="481.8" x2="430.2" y2="481.8" stroke="#8c8c8c" stroke-width="0.9"/><polygon points="426.4,481.8 428.4,480.4 428.4,483.2" fill="#8c8c8c"/>
<text x="430.55" y="483.86" font-size="6.60" font-weight="bold" fill="#8c8c8c" stroke="#8c8c8c" stroke-width="0.25" textLength="13.35" lengthAdjust="spacingAndGlyphs" >PBL</text>
<line x1="469.1" y1="310" x2="469.1" y2="487.9" stroke="#aaa" stroke-width="0.8" stroke-dasharray="1,1"/>
<line x1="437" y1="482" x2="437" y2="488" stroke="#aaa" stroke-width="0.8" stroke-dasharray="1,1"/>
<rect x="14.3" y="43" width="76.4" height="81" rx="2" fill="#fff" fill-opacity="0.65" stroke="#ddd" stroke-width="0.8"/>
<line x1="17" y1="48.7" x2="31" y2="48.7" stroke="#6495ed" stroke-width="1.0" />
<text x="34.17" y="51.03" font-size="5.90" font-weight="normal" fill="#333" textLength="46.13" lengthAdjust="spacingAndGlyphs" >WETBULB TEMP</text>
<line x1="17" y1="57.4" x2="31" y2="57.4" stroke="#a03030" stroke-width="2.0" stroke-dasharray="1.6,2.4"/>
<text x="34.17" y="59.75" font-size="5.90" font-weight="normal" fill="#333" textLength="42.13" lengthAdjust="spacingAndGlyphs" >VIRTUAL TEMP</text>
<line x1="17" y1="66.1" x2="31" y2="66.1" stroke="#6495ed" stroke-width="2.8" />
<text x="33.73" y="68.47" font-size="5.90" font-weight="normal" fill="#333" textLength="30.90" lengthAdjust="spacingAndGlyphs" >DEWPOINT</text>
<line x1="17" y1="74.9" x2="31" y2="74.9" stroke="#ff0000" stroke-width="2.8" />
<text x="34.08" y="77.19" font-size="5.90" font-weight="normal" fill="#333" textLength="41.66" lengthAdjust="spacingAndGlyphs" >TEMPERATURE</text>
<line x1="17" y1="83.6" x2="31" y2="83.6" stroke="#ff1a1a" stroke-width="1.5" stroke-dasharray="4,3"/>
<text x="33.73" y="85.91" font-size="5.90" font-weight="normal" fill="#333" textLength="52.46" lengthAdjust="spacingAndGlyphs" >MUECAPE PARCEL</text>
<line x1="17" y1="92.3" x2="31" y2="92.3" stroke="#aaa" stroke-width="1.0" stroke-dasharray="4,3"/>
<text x="33.94" y="94.63" font-size="5.90" font-weight="normal" fill="#333" textLength="47.75" lengthAdjust="spacingAndGlyphs" >SBCAPE PARCEL</text>
<line x1="17" y1="101.0" x2="31" y2="101.0" stroke="#aaa" stroke-width="1.0" stroke-dasharray="4,3"/>
<text x="33.73" y="103.35" font-size="5.90" font-weight="normal" fill="#333" textLength="47.96" lengthAdjust="spacingAndGlyphs" >MLCAPE PARCEL</text>
<line x1="17" y1="109.7" x2="31" y2="109.7" stroke="#aaa" stroke-width="1.0" stroke-dasharray="4,3"/>
<text x="33.74" y="112.07" font-size="5.90" font-weight="normal" fill="#333" textLength="48.45" lengthAdjust="spacingAndGlyphs" >MUCAPE PARCEL</text>
<line x1="17" y1="118.5" x2="31" y2="118.5" stroke="#c080c0" stroke-width="0.8" stroke-dasharray="1,1"/>
<text x="33.73" y="120.79" font-size="5.90" font-weight="normal" fill="#333" textLength="53.87" lengthAdjust="spacingAndGlyphs" >DWNDRFT PARCEL</text>
<g>
<line x1="543.6" y1="177.5" x2="580.8" y2="177.5" stroke="#ccc" stroke-width="0.8"/>
<line x1="543.6" y1="257.1" x2="580.8" y2="257.1" stroke="#ccc" stroke-width="0.8"/>
<line x1="543.6" y1="313.5" x2="580.8" y2="313.5" stroke="#ccc" stroke-width="0.8"/>
<line x1="543.6" y1="357.3" x2="580.8" y2="357.3" stroke="#ccc" stroke-width="0.8"/>
<line x1="543.6" y1="393.1" x2="580.8" y2="393.1" stroke="#ccc" stroke-width="0.8"/>
<line x1="543.6" y1="423.3" x2="580.8" y2="423.3" stroke="#ccc" stroke-width="0.8"/>
<line x1="543.6" y1="449.5" x2="580.8" y2="449.5" stroke="#ccc" stroke-width="0.8"/>
<line x1="543.6" y1="472.6" x2="580.8" y2="472.6" stroke="#ccc" stroke-width="0.8"/>
<line x1="543.6" y1="493.3" x2="580.8" y2="493.3" stroke="#ccc" stroke-width="0.8"/>
<rect x="561.7" y="84.7" width="11.0" height="115.7" fill="#ffb3b3" fill-opacity="0.92" stroke="#e8a0a0" stroke-width="0.5"/>
<rect x="554.5" y="199.9" width="7.2" height="71.9" fill="#c9d9f5" fill-opacity="0.92" stroke="#a8bce0" stroke-width="0.5"/>
<rect x="551.2" y="271.8" width="10.5" height="52.9" fill="#c9d9f5" fill-opacity="0.92" stroke="#a8bce0" stroke-width="0.5"/>
<rect x="561.7" y="325.0" width="5.9" height="41.4" fill="#ffb3b3" fill-opacity="0.92" stroke="#e8a0a0" stroke-width="0.5"/>
<rect x="561.7" y="366.4" width="7.8" height="33.7" fill="#ffb3b3" fill-opacity="0.92" stroke="#e8a0a0" stroke-width="0.5"/>
<rect x="561.7" y="400.1" width="3.0" height="29.6" fill="#ffb3b3" fill-opacity="0.92" stroke="#e8a0a0" stroke-width="0.5"/>
<rect x="561.7" y="429.7" width="7.3" height="25.3" fill="#ffb3b3" fill-opacity="0.92" stroke="#e8a0a0" stroke-width="0.5"/>
<rect x="561.7" y="455.0" width="4.2" height="22.5" fill="#ffb3b3" fill-opacity="0.92" stroke="#e8a0a0" stroke-width="0.5"/>
<text x="561.89" y="162.13" font-size="6.67" font-weight="bold" fill="#000" textLength="9.27" lengthAdjust="spacingAndGlyphs" >5.2</text>
<text x="549.24" y="246.93" font-size="6.67" font-weight="bold" fill="#000" textLength="11.49" lengthAdjust="spacingAndGlyphs" >-3.6</text>
<text x="549.24" y="305.63" font-size="6.67" font-weight="bold" fill="#000" textLength="11.49" lengthAdjust="spacingAndGlyphs" >-5.3</text>
<text x="561.92" y="350.93" font-size="6.67" font-weight="bold" fill="#000" textLength="9.27" lengthAdjust="spacingAndGlyphs" >3.0</text>
<text x="561.89" y="387.93" font-size="6.67" font-weight="bold" fill="#000" textLength="9.27" lengthAdjust="spacingAndGlyphs" >3.8</text>
<text x="561.67" y="418.93" font-size="6.67" font-weight="bold" fill="#000" textLength="9.27" lengthAdjust="spacingAndGlyphs" >1.4</text>
<text x="561.91" y="445.13" font-size="6.67" font-weight="bold" fill="#000" textLength="9.27" lengthAdjust="spacingAndGlyphs" >3.6</text>
<text x="561.80" y="468.73" font-size="6.67" font-weight="bold" fill="#000" textLength="9.27" lengthAdjust="spacingAndGlyphs" >1.7</text>
<line x1="561.7" y1="41.3" x2="561.7" y2="497.5" stroke="#666" stroke-width="0.7" stroke-dasharray="1.2,1"/>
<rect x="543.6" y="41.3" width="37.2" height="461.3" fill="none" stroke="#606060" stroke-width="1"/>
</g>
<g clip-path="url(#ch)">
<circle cx="709.5" cy="263.1" r="34.4" fill="none" stroke="#c4c4c4" stroke-width="0.8" stroke-dasharray="2.2,1.8"/>
<circle cx="709.5" cy="263.1" r="68.8" fill="none" stroke="#9a9a9a" stroke-width="0.9"/>
<circle cx="709.5" cy="263.1" r="103.2" fill="none" stroke="#c4c4c4" stroke-width="0.8" stroke-dasharray="2.2,1.8"/>
<circle cx="709.5" cy="263.1" r="137.6" fill="none" stroke="#9a9a9a" stroke-width="0.9"/>
<circle cx="709.5" cy="263.1" r="172.0" fill="none" stroke="#c4c4c4" stroke-width="0.8" stroke-dasharray="2.2,1.8"/>
<circle cx="709.5" cy="263.1" r="206.4" fill="none" stroke="#9a9a9a" stroke-width="0.9"/>
<circle cx="709.5" cy="263.1" r="240.8" fill="none" stroke="#c4c4c4" stroke-width="0.8" stroke-dasharray="2.2,1.8"/>
<circle cx="709.5" cy="263.1" r="275.2" fill="none" stroke="#9a9a9a" stroke-width="0.9"/>
<circle cx="709.5" cy="263.1" r="309.6" fill="none" stroke="#c4c4c4" stroke-width="0.8" stroke-dasharray="2.2,1.8"/>
<circle cx="709.5" cy="263.1" r="344.0" fill="none" stroke="#9a9a9a" stroke-width="0.9"/>
<circle cx="709.5" cy="263.1" r="378.4" fill="none" stroke="#c4c4c4" stroke-width="0.8" stroke-dasharray="2.2,1.8"/>
<line x1="580.8" y1="263.1" x2="1007.5" y2="263.1" stroke="#a0a0a0" stroke-width="0.8" stroke-dasharray="1.6,1.4"/>
<line x1="709.5" y1="41.3" x2="709.5" y2="502.6" stroke="#a0a0a0" stroke-width="0.8" stroke-dasharray="1.6,1.4"/>
<text x="744.47" y="262.80" font-size="8.14" font-weight="normal" fill="#bdbdbd" textLength="9.15" lengthAdjust="spacingAndGlyphs" >10</text>
<text x="674.67" y="262.80" font-size="8.14" font-weight="normal" fill="#bdbdbd" textLength="9.15" lengthAdjust="spacingAndGlyphs" >10</text>
<text x="813.60" y="262.80" font-size="8.14" font-weight="normal" fill="#bdbdbd" textLength="8.81" lengthAdjust="spacingAndGlyphs" >30</text>
<text x="606.20" y="262.80" font-size="8.14" font-weight="normal" fill="#bdbdbd" textLength="8.81" lengthAdjust="spacingAndGlyphs" >30</text>
<text x="882.38" y="262.80" font-size="8.14" font-weight="normal" fill="#bdbdbd" textLength="8.83" lengthAdjust="spacingAndGlyphs" >50</text>
<text x="537.38" y="262.80" font-size="8.14" font-weight="normal" fill="#bdbdbd" textLength="8.83" lengthAdjust="spacingAndGlyphs" >50</text>
<text x="951.09" y="262.80" font-size="8.14" font-weight="normal" fill="#bdbdbd" textLength="8.92" lengthAdjust="spacingAndGlyphs" >70</text>
<text x="468.49" y="262.80" font-size="8.14" font-weight="normal" fill="#bdbdbd" textLength="8.92" lengthAdjust="spacingAndGlyphs" >70</text>
<text x="710.27" y="227.50" font-size="8.14" font-weight="normal" fill="#bdbdbd" textLength="9.15" lengthAdjust="spacingAndGlyphs" >10</text>
<text x="710.27" y="297.10" font-size="8.14" font-weight="normal" fill="#bdbdbd" textLength="9.15" lengthAdjust="spacingAndGlyphs" >10</text>
<text x="710.60" y="158.70" font-size="8.14" font-weight="normal" fill="#bdbdbd" textLength="8.81" lengthAdjust="spacingAndGlyphs" >30</text>
<text x="710.60" y="365.90" font-size="8.14" font-weight="normal" fill="#bdbdbd" textLength="8.81" lengthAdjust="spacingAndGlyphs" >30</text>
<text x="710.58" y="89.90" font-size="8.14" font-weight="normal" fill="#bdbdbd" textLength="8.83" lengthAdjust="spacingAndGlyphs" >50</text>
<text x="710.58" y="434.70" font-size="8.14" font-weight="normal" fill="#bdbdbd" textLength="8.83" lengthAdjust="spacingAndGlyphs" >50</text>
<text x="710.49" y="503.50" font-size="8.14" font-weight="normal" fill="#bdbdbd" textLength="8.92" lengthAdjust="spacingAndGlyphs" >70</text>
<polygon points="792.9,299.4 711.0,256.0 726.3,271.3 737.6,244.1 731.0,225.3 741.3,223.5 763.8,208.4 784.4,200.3 792.3,198.1 806.9,192.8 815.3,204.1 810.7,220.0 805.6,228.5 799.4,238.8 810.7,252.9" fill="#e3f1f6" fill-opacity="0.6" stroke="none"/>
<line x1="709.5" y1="263.1" x2="788.9" y2="297.7" stroke="#b4b4b4" stroke-width="1.4"/>
<polygon points="792.9,299.4 786.5,299.0 788.3,295.0" fill="#b4b4b4"/>
<polyline points="700.0,246.9 710.3,263.8 726.3,271.3 737.6,244.1 731.0,225.3 730.0,222.1 741.3,223.5 763.8,208.4 784.4,200.3 792.3,198.1" fill="none" stroke="#800080" stroke-width="3.8" stroke-linejoin="round" stroke-linecap="butt"/>
<polyline points="792.3,198.1 806.9,192.8 815.3,204.1 810.7,220.0 805.6,228.5 799.4,238.8 810.7,252.9" fill="none" stroke="#ff0000" stroke-width="3.8" stroke-linejoin="round" stroke-linecap="butt"/>
<polyline points="810.7,252.9 826.6,237.9 831.3,230.4 844.4,236.9 859.4,251.9 877.7,279.5 853.8,287.3 856.3,304.6 858.0,317.5 899.0,331.6" fill="none" stroke="#ff8c00" stroke-width="3.8" stroke-linejoin="round" stroke-linecap="butt"/>
<polyline points="899.0,331.6 846.0,274.6 835.5,250.0 827.5,232.2 821.9,233.2 811.6,236.0 791.0,233.2 791.0,229.4 795.3,224.7 800.3,216.3 805.6,186.3 805.6,182.9" fill="none" stroke="#ffd500" stroke-width="3.8" stroke-linejoin="round" stroke-linecap="butt"/>
<polyline points="805.6,182.9 804.9,175.1 804.9,168.5 797.5,162.0 776.1,147.2 755.6,136.5 770.4,117.6 779.4,101.2 788.4,93.8 796.6,99.2 813.9,107.8 835.2,117.6 841.8,122.5 860.7,136.5" fill="none" stroke="#ffeaa0" stroke-width="3.8" stroke-linejoin="round" stroke-linecap="butt"/>
<circle cx="730.0" cy="222.1" r="4.3" fill="#fff" stroke="#000" stroke-width="0.8"/>
<text x="727.04" y="224.40" font-size="7.04" font-weight="bold" fill="#000" stroke="#000" stroke-width="0.25" textLength="5.65" lengthAdjust="spacingAndGlyphs" >.5</text>
<circle cx="792.3" cy="198.1" r="4.3" fill="#fff" stroke="#000" stroke-width="0.8"/>
<text x="790.14" y="200.40" font-size="7.04" font-weight="bold" fill="#000" stroke="#000" stroke-width="0.25" textLength="4.06" lengthAdjust="spacingAndGlyphs" >1</text>
<circle cx="805.6" cy="228.5" r="4.3" fill="#fff" stroke="#000" stroke-width="0.8"/>
<text x="803.66" y="230.80" font-size="7.04" font-weight="bold" fill="#000" stroke="#000" stroke-width="0.25" textLength="3.93" lengthAdjust="spacingAndGlyphs" >2</text>
<circle cx="810.7" cy="252.9" r="4.3" fill="#fff" stroke="#000" stroke-width="0.8"/>
<text x="808.84" y="255.20" font-size="7.04" font-weight="bold" fill="#000" stroke="#000" stroke-width="0.25" textLength="3.80" lengthAdjust="spacingAndGlyphs" >3</text>
<circle cx="877.7" cy="279.5" r="4.3" fill="#fff" stroke="#000" stroke-width="0.8"/>
<text x="875.90" y="281.80" font-size="7.04" font-weight="bold" fill="#000" stroke="#000" stroke-width="0.25" textLength="3.53" lengthAdjust="spacingAndGlyphs" >4</text>
<circle cx="856.3" cy="304.6" r="4.3" fill="#fff" stroke="#000" stroke-width="0.8"/>
<text x="854.39" y="306.90" font-size="7.04" font-weight="bold" fill="#000" stroke="#000" stroke-width="0.25" textLength="3.80" lengthAdjust="spacingAndGlyphs" >5</text>
<circle cx="899.0" cy="331.6" r="4.3" fill="#fff" stroke="#000" stroke-width="0.8"/>
<text x="897.04" y="333.90" font-size="7.04" font-weight="bold" fill="#000" stroke="#000" stroke-width="0.25" textLength="3.91" lengthAdjust="spacingAndGlyphs" >6</text>
<circle cx="821.9" cy="233.2" r="4.3" fill="#fff" stroke="#000" stroke-width="0.8"/>
<text x="819.89" y="235.50" font-size="7.04" font-weight="bold" fill="#000" stroke="#000" stroke-width="0.25" textLength="4.03" lengthAdjust="spacingAndGlyphs" >7</text>
<circle cx="795.3" cy="224.7" r="4.3" fill="#fff" stroke="#000" stroke-width="0.8"/>
<text x="793.38" y="227.00" font-size="7.04" font-weight="bold" fill="#000" stroke="#000" stroke-width="0.25" textLength="3.83" lengthAdjust="spacingAndGlyphs" >8</text>
<circle cx="805.6" cy="182.9" r="4.3" fill="#fff" stroke="#000" stroke-width="0.8"/>
<text x="803.66" y="185.20" font-size="7.04" font-weight="bold" fill="#000" stroke="#000" stroke-width="0.25" textLength="3.90" lengthAdjust="spacingAndGlyphs" >9</text>
<circle cx="796.6" cy="99.2" r="4.3" fill="#fff" stroke="#000" stroke-width="0.8"/>
<text x="793.79" y="101.50" font-size="7.04" font-weight="bold" fill="#000" stroke="#000" stroke-width="0.25" textLength="5.44" lengthAdjust="spacingAndGlyphs" >11</text>
<text x="835.38" y="207.89" font-size="9.24" font-weight="bold" fill="#000" stroke="#000" stroke-width="0.25" textLength="13.45" lengthAdjust="spacingAndGlyphs" >LM</text>
<text x="829.19" y="249.19" font-size="9.24" font-weight="bold" fill="#000" stroke="#000" stroke-width="0.25" textLength="16.22" lengthAdjust="spacingAndGlyphs" >MW</text>
<text x="796.84" y="302.39" font-size="9.24" font-weight="bold" fill="#000" stroke="#000" stroke-width="0.25" textLength="15.32" lengthAdjust="spacingAndGlyphs" >RM</text>
<text x="744.82" y="273.26" font-size="6.60" font-weight="bold" fill="#b03030" stroke="#b03030" stroke-width="0.25" textLength="15.67" lengthAdjust="spacingAndGlyphs" >DTM</text>
<polygon points="749.6,277.3 755.2,277.3 752.4,282.3" fill="#b85050"/>
<text x="775.07" y="290.40" font-size="7.04" font-weight="normal" fill="#f5b84a" textLength="9.60" lengthAdjust="spacingAndGlyphs" >UP</text>
<text x="895.33" y="280.15" font-size="8.14" font-weight="normal" fill="#f5b84a" textLength="11.84" lengthAdjust="spacingAndGlyphs" >DN</text>
</g>
<text x="589.31" y="51.76" font-size="9.46" font-weight="bold" fill="#6a6a6a" stroke="#6a6a6a" stroke-width="0.25" textLength="166.90" lengthAdjust="spacingAndGlyphs" >SM: RIGHT MOVING | ESE @ 26 kts</text>
<text x="588.84" y="64.46" font-size="9.46" font-weight="normal" fill="#6a6a6a" textLength="76.89" lengthAdjust="spacingAndGlyphs" >RM: ESE @ 26 kts</text>
<text x="588.84" y="81.06" font-size="9.46" font-weight="normal" fill="#6a6a6a" textLength="76.50" lengthAdjust="spacingAndGlyphs" >LM: ENE @ 39 kts</text>
<text x="588.83" y="97.26" font-size="9.46" font-weight="normal" fill="#6a6a6a" textLength="68.11" lengthAdjust="spacingAndGlyphs" >MW: E @ 34 kts</text>
<text x="586.04" y="113.66" font-size="9.46" font-weight="normal" fill="#6a6a6a" textLength="83.20" lengthAdjust="spacingAndGlyphs" >DTM: ESE @ 13 kts</text>
<text x="588.89" y="129.86" font-size="9.46" font-weight="normal" fill="#6a6a6a" textLength="75.44" lengthAdjust="spacingAndGlyphs" >US: ESE @ 21 kts</text>
<text x="588.83" y="145.96" font-size="9.46" font-weight="normal" fill="#6a6a6a" textLength="64.72" lengthAdjust="spacingAndGlyphs" >DS: E @ 55 kts</text>
<rect x="580.8" y="41.3" width="426.7" height="461.3" fill="none" stroke="#606060" stroke-width="1"/>
<defs><clipPath id="ci"><rect x="580.3" y="393.8" width="108.4" height="108.6"/></clipPath><filter id="spk" x="-10%" y="-10%" width="120%" height="120%" color-interpolation-filters="sRGB"><feTurbulence type="fractalNoise" baseFrequency="0.55" numOctaves="2" seed="7" result="n"/><feColorMatrix in="n" type="matrix" values="0 0 0 0 0  0 0 0 0 0  0 0 0 0 0  6 0 0 0 -1.8" result="m"/><feComposite in="SourceGraphic" in2="m" operator="in"/></filter><filter id="spk2" x="-10%" y="-10%" width="120%" height="120%" color-interpolation-filters="sRGB"><feTurbulence type="fractalNoise" baseFrequency="0.7" numOctaves="2" seed="11" result="n"/><feColorMatrix in="n" type="matrix" values="0 0 0 0 0  0 0 0 0 0  0 0 0 0 0  6 0 0 0 -2.2" result="m"/><feComposite in="SourceGraphic" in2="m" operator="in"/></filter><filter id="bl2" x="-20%" y="-20%" width="140%" height="140%"><feGaussianBlur stdDeviation="0.4"/></filter><filter id="dsp" x="-5%" y="-5%" width="110%" height="110%" color-interpolation-filters="sRGB"><feTurbulence type="fractalNoise" baseFrequency="0.18" numOctaves="3" seed="5" result="t"/><feDisplacementMap in="SourceGraphic" in2="t" scale="6" xChannelSelector="R" yChannelSelector="G"/></filter><filter id="spk3" x="-10%" y="-10%" width="120%" height="120%" color-interpolation-filters="sRGB"><feTurbulence type="fractalNoise" baseFrequency="0.45" numOctaves="2" seed="23" result="n"/><feColorMatrix in="n" type="matrix" values="0 0 0 0 0  0 0 0 0 0  0 0 0 0 0  7 0 0 0 -3.6" result="m"/><feComposite in="SourceGraphic" in2="m" operator="in"/></filter><filter id="spk4" x="-10%" y="-10%" width="120%" height="120%" color-interpolation-filters="sRGB"><feTurbulence type="fractalNoise" baseFrequency="0.35" numOctaves="2" seed="41" result="n"/><feColorMatrix in="n" type="matrix" values="0 0 0 0 0  0 0 0 0 0  0 0 0 0 0  8 0 0 0 -4.3" result="m"/><feComposite in="SourceGraphic" in2="m" operator="in"/></filter></defs>
<rect x="580.3" y="393.8" width="108.4" height="108.6" fill="#fff"/>
<g clip-path="url(#ci)">
<g stroke="#ececec" stroke-width="0.5"><line x1="582.3" y1="393.8" x2="581.7" y2="502.4"/><line x1="591.4" y1="393.8" x2="591.4" y2="502.4"/><line x1="600.5" y1="393.8" x2="601.1" y2="502.4"/><line x1="609.6" y1="393.8" x2="609.0" y2="502.4"/><line x1="618.7" y1="393.8" x2="618.7" y2="502.4"/><line x1="627.8" y1="393.8" x2="628.4" y2="502.4"/><line x1="636.9" y1="393.8" x2="636.3" y2="502.4"/><line x1="646.0" y1="393.8" x2="646.0" y2="502.4"/><line x1="655.1" y1="393.8" x2="655.7" y2="502.4"/><line x1="664.2" y1="393.8" x2="663.6" y2="502.4"/><line x1="673.3" y1="393.8" x2="673.3" y2="502.4"/><line x1="682.4" y1="393.8" x2="683.0" y2="502.4"/><line x1="580.3" y1="396.8" x2="688.7" y2="396.8"/><line x1="580.3" y1="405.2" x2="688.7" y2="405.2"/><line x1="580.3" y1="413.6" x2="688.7" y2="413.6"/><line x1="580.3" y1="422.0" x2="688.7" y2="422.0"/><line x1="580.3" y1="430.4" x2="688.7" y2="430.4"/><line x1="580.3" y1="438.8" x2="688.7" y2="438.8"/><line x1="580.3" y1="447.2" x2="688.7" y2="447.2"/><line x1="580.3" y1="455.6" x2="688.7" y2="455.6"/><line x1="580.3" y1="464.0" x2="688.7" y2="464.0"/><line x1="580.3" y1="472.4" x2="688.7" y2="472.4"/><line x1="580.3" y1="480.8" x2="688.7" y2="480.8"/><line x1="580.3" y1="489.2" x2="688.7" y2="489.2"/><line x1="580.3" y1="497.6" x2="688.7" y2="497.6"/></g>
<g filter="url(#dsp)">
<g filter="url(#spk)"><polygon points="596.0,397.0 604.0,394.5 609.0,398.0 608.0,405.0 605.0,411.0 600.0,414.0 595.5,410.0 597.0,403.0" fill="#6a9ad6"/><polygon points="630.0,394.0 648.0,394.0 648.0,401.0 640.0,405.0 633.0,403.5 629.5,398.0" fill="#6a9ad6"/><polygon points="619.5,394.0 628.0,394.0 628.0,399.5 621.0,399.5" fill="#6a9ad6"/><polygon points="648.0,402.0 657.0,400.5 666.0,400.0 666.0,405.5 657.0,407.0 649.0,407.0" fill="#6a9ad6"/><polygon points="653.0,414.0 664.0,413.5 664.0,419.0 655.0,419.5" fill="#6a9ad6"/><polygon points="621.5,416.5 629.0,414.5 637.0,417.0 636.0,428.0 633.0,436.0 624.0,436.0 621.0,428.0" fill="#6a9ad6"/><polygon points="580.0,462.5 597.0,461.5 616.0,463.5 615.5,473.0 597.0,473.5 580.0,474.0" fill="#6a9ad6"/><polygon points="625.0,452.5 634.0,451.5 641.5,456.0 641.0,465.0 650.0,461.0 656.0,459.5 664.0,458.0 672.0,451.5 679.0,452.5 686.0,462.0 688.7,468.0 688.7,485.0 672.0,484.0 660.0,485.0 648.0,488.0 635.0,489.5 610.0,489.5 590.0,489.0 580.0,487.0 580.0,475.5 604.0,474.0 615.0,471.5 626.0,467.0" fill="#6a9ad6"/><polygon points="587.0,489.0 610.0,489.0 609.0,502.4 587.0,502.4" fill="#6a9ad6"/></g>
<g filter="url(#spk2)"><polygon points="598.0,399.0 604.0,396.5 607.0,400.0 606.0,406.0 603.0,411.0 599.0,412.0 597.0,407.0" fill="#55bb55"/><polygon points="631.5,394.0 647.0,394.0 646.0,400.0 640.0,403.5 634.0,402.0 631.0,398.0" fill="#55bb55"/><polygon points="620.5,394.0 627.0,394.0 626.5,398.5 621.5,398.0" fill="#55bb55"/><polygon points="649.0,403.0 656.0,401.5 664.0,401.0 664.5,404.5 657.0,406.0 650.0,406.0" fill="#55bb55"/><polygon points="623.0,419.0 629.0,416.5 635.0,418.5 634.5,428.0 631.5,434.5 625.0,434.5 622.5,428.0" fill="#55bb55"/><polygon points="580.0,464.0 597.0,462.5 614.0,464.5 614.0,472.0 597.0,472.5 580.0,473.0" fill="#55bb55"/><polygon points="627.0,462.0 636.0,460.0 641.0,466.0 652.0,462.0 656.0,461.0 664.0,466.0 672.0,455.0 678.0,455.0 685.0,464.0 688.7,472.0 688.7,483.5 672.0,482.5 660.0,483.0 648.0,486.5 635.0,488.0 610.0,488.0 590.0,487.5 580.0,486.0 580.0,476.5 604.0,474.8 616.0,472.5 626.0,468.5" fill="#55bb55"/><polygon points="588.0,490.0 609.0,490.0 608.0,502.4 588.0,502.4" fill="#55bb55"/></g>
<polygon points="581.0,477.0 604.0,475.5 616.0,473.5 627.0,469.0 636.0,462.0 641.0,467.0 646.0,486.0 620.0,487.5 590.0,487.0 581.0,485.0" fill="#55bb55" filter="url(#bl2)"/>
<polygon points="658.0,474.0 672.0,466.0 686.0,466.0 688.7,474.0 688.7,482.0 672.0,482.0 659.0,482.5" fill="#55bb55" filter="url(#bl2)"/>
<polygon points="624.0,420.0 630.0,418.0 633.5,424.0 632.0,432.0 626.0,433.0" fill="#55bb55" filter="url(#bl2)"/>
<polygon points="599.0,401.0 604.0,398.5 605.5,402.0 603.0,408.0 599.5,409.0" fill="#55bb55" filter="url(#bl2)"/>
<polygon points="580.0,465.5 596.0,464.0 613.0,466.0 613.0,471.5 596.0,471.8 580.0,472.5" fill="#55bb55" filter="url(#bl2)"/>
<polygon points="633.0,394.5 646.0,394.5 644.0,400.0 638.0,402.0 634.0,399.5" fill="#55bb55" filter="url(#bl2)"/>
<g filter="url(#spk2)"><polygon points="600.5,406.5 603.0,405.5 603.5,409.0 601.0,410.0" fill="#f2ea2a"/><polygon points="634.0,394.5 645.0,394.5 643.0,399.5 638.0,401.0 635.0,398.5" fill="#f2ea2a"/><polygon points="580.0,467.0 613.0,467.0 612.5,471.0 580.0,471.5" fill="#f2ea2a"/><polygon points="581.0,477.5 594.0,476.5 597.0,482.0 590.0,484.0 581.0,484.0" fill="#f2ea2a"/><polygon points="611.0,478.0 625.0,474.5 640.0,473.0 648.0,472.5 647.0,479.0 638.0,485.0 622.0,486.5 611.0,485.0" fill="#f2ea2a"/><polygon points="659.0,475.5 672.0,474.5 684.0,474.0 684.5,480.0 672.0,481.5 660.0,481.5" fill="#f2ea2a"/><polygon points="656.5,463.0 661.0,462.5 663.0,466.0 657.5,467.0" fill="#f2ea2a"/><polygon points="590.0,492.0 600.0,492.0 600.0,502.4 590.0,502.4" fill="#f2ea2a"/></g>
<polygon points="580.0,467.8 612.0,467.6 612.0,470.0 580.0,470.5" fill="#f2ea2a" filter="url(#bl2)"/>
<polygon points="612.0,479.0 638.0,475.5 646.0,474.5 645.0,479.0 634.0,484.0 614.0,484.5" fill="#f2ea2a" filter="url(#bl2)"/>
<polygon points="661.0,476.5 682.0,475.5 682.0,480.0 662.0,480.5" fill="#f2ea2a" filter="url(#bl2)"/>
<polygon points="580.0,468.3 611.0,468.2 611.0,469.8 580.0,470.2" fill="#f4a21e" filter="url(#bl2)"/><polygon points="582.0,478.0 590.0,477.2 590.0,480.5 582.0,481.5" fill="#f4a21e" filter="url(#bl2)"/><polygon points="638.0,396.0 644.0,395.5 642.0,399.0 639.0,399.0" fill="#f4a21e" filter="url(#bl2)"/><polygon points="632.0,476.0 642.0,474.5 642.0,477.0 634.0,478.0" fill="#f4a21e" filter="url(#bl2)"/><polygon points="591.0,498.0 598.0,498.0 598.0,502.4 591.0,502.4" fill="#f4a21e" filter="url(#bl2)"/><polygon points="684.5,420.0 688.7,418.5 688.7,421.5 685.0,422.0" fill="#f4a21e" filter="url(#bl2)"/>
<polygon points="580.0,468.6 610.0,468.6 610.0,469.6 580.0,469.9" fill="#e23a1e" filter="url(#bl2)"/>
<polygon points="639.5,396.5 643.0,396.5 641.5,398.5 640.0,398.5" fill="#e23a1e" filter="url(#bl2)"/>
<g filter="url(#spk3)"><polygon points="598.0,399.0 604.0,396.5 607.0,400.0 606.0,406.0 603.0,411.0 599.0,412.0 597.0,407.0" fill="#2f9a3a"/><polygon points="631.5,394.0 647.0,394.0 646.0,400.0 640.0,403.5 634.0,402.0 631.0,398.0" fill="#2f9a3a"/><polygon points="620.5,394.0 627.0,394.0 626.5,398.5 621.5,398.0" fill="#2f9a3a"/><polygon points="649.0,403.0 656.0,401.5 664.0,401.0 664.5,404.5 657.0,406.0 650.0,406.0" fill="#2f9a3a"/><polygon points="623.0,419.0 629.0,416.5 635.0,418.5 634.5,428.0 631.5,434.5 625.0,434.5 622.5,428.0" fill="#2f9a3a"/><polygon points="580.0,464.0 597.0,462.5 614.0,464.5 614.0,472.0 597.0,472.5 580.0,473.0" fill="#2f9a3a"/><polygon points="627.0,462.0 636.0,460.0 641.0,466.0 652.0,462.0 656.0,461.0 664.0,466.0 672.0,455.0 678.0,455.0 685.0,464.0 688.7,472.0 688.7,483.5 672.0,482.5 660.0,483.0 648.0,486.5 635.0,488.0 610.0,488.0 590.0,487.5 580.0,486.0 580.0,476.5 604.0,474.8 616.0,472.5 626.0,468.5" fill="#2f9a3a"/><polygon points="588.0,490.0 609.0,490.0 608.0,502.4 588.0,502.4" fill="#2f9a3a"/></g>
<g filter="url(#spk4)"><polygon points="641.0,463.0 652.0,459.0 658.0,461.0 660.0,468.0 652.0,472.0 643.0,470.0" fill="#ffffff"/><polygon points="655.0,468.0 668.0,466.0 676.0,472.0 664.0,476.0 656.0,475.0" fill="#ffffff"/><polygon points="674.0,456.0 684.0,458.0 688.7,468.0 680.0,470.0" fill="#ffffff"/><polygon points="612.0,486.5 640.0,484.5 660.0,484.0 640.0,489.0 612.0,489.5" fill="#ffffff"/></g>
</g>
<polyline points="619.5,393.8 624.4,402.9 625.5,408.4 628.8,412.8 629.3,420.4 630.4,427.0 632.6,429.7 638.6,438.0 639.7,441.2 646.8,443.4 649.0,445.6 650.1,446.0 645.2,450.4 649.0,454.8 651.2,458.0 655.6,459.1 655.6,502.4" fill="none" stroke="#111" stroke-width="1.1" stroke-linejoin="round"/>
<line x1="632.6" y1="429.2" x2="688.7" y2="429.2" stroke="#111" stroke-width="1.1"/>
<line x1="580.3" y1="441.2" x2="639.7" y2="441.2" stroke="#111" stroke-width="1.1"/>
<g stroke="#000" stroke-width="1.2" fill="none"><circle cx="634.3" cy="460.8" r="2.4"/><line x1="629.6" y1="460.8" x2="639" y2="460.8"/><line x1="634.3" y1="456.2" x2="634.3" y2="465.4"/></g>
<rect x="591.8" y="489.6" width="85.6" height="11.4" fill="#fff" fill-opacity="0.88" stroke="#999" stroke-width="0.6" rx="1"/>
<text x="593.14" y="497.60" font-size="8.80" font-weight="bold" fill="#222" textLength="82.54" lengthAdjust="spacingAndGlyphs" >Valid: 06-18 | 00:00</text>
</g>
<rect x="580.3" y="393.8" width="108.4" height="108.6" fill="none" stroke="#777" stroke-width="0.8"/>
<rect x="915.5" y="426.6" width="92" height="76" fill="#fff" stroke="#666" stroke-width="0.8"/>
<text x="922.11" y="438.62" font-size="9.02" font-weight="bold" fill="#000" stroke="#000" stroke-width="0.25" textLength="14.25" lengthAdjust="spacingAndGlyphs" >0-3</text>
<text x="936.44" y="438.60" font-size="5.06" font-weight="bold" fill="#000" textLength="7.48" lengthAdjust="spacingAndGlyphs" >km</text>
<text x="947.55" y="438.62" font-size="9.02" font-weight="bold" fill="#000" stroke="#000" stroke-width="0.25" textLength="20.52" lengthAdjust="spacingAndGlyphs" >SRH,</text>
<text x="976.15" y="438.62" font-size="9.02" font-weight="bold" fill="#000" stroke="#000" stroke-width="0.25" textLength="19.80" lengthAdjust="spacingAndGlyphs" >BWD</text>
<text x="922.17" y="451.19" font-size="9.24" font-weight="bold" fill="#4f7fec" stroke="#4f7fec" stroke-width="0.25" textLength="41.03" lengthAdjust="spacingAndGlyphs" >234 m²/s²</text>
<text x="975.28" y="451.19" font-size="9.24" font-weight="bold" fill="#4f7fec" stroke="#4f7fec" stroke-width="0.25" textLength="21.84" lengthAdjust="spacingAndGlyphs" >31 kt</text>
<text x="922.11" y="463.52" font-size="9.02" font-weight="bold" fill="#000" stroke="#000" stroke-width="0.25" textLength="14.25" lengthAdjust="spacingAndGlyphs" >0-6</text>
<text x="936.44" y="463.50" font-size="5.06" font-weight="bold" fill="#000" textLength="7.48" lengthAdjust="spacingAndGlyphs" >km</text>
<text x="947.55" y="463.52" font-size="9.02" font-weight="bold" fill="#000" stroke="#000" stroke-width="0.25" textLength="20.52" lengthAdjust="spacingAndGlyphs" >SRH,</text>
<text x="976.15" y="463.52" font-size="9.02" font-weight="bold" fill="#000" stroke="#000" stroke-width="0.25" textLength="19.80" lengthAdjust="spacingAndGlyphs" >BWD</text>
<text x="922.36" y="474.89" font-size="9.24" font-weight="bold" fill="#4f7fec" stroke="#4f7fec" stroke-width="0.25" textLength="40.84" lengthAdjust="spacingAndGlyphs" >419 m²/s²</text>
<text x="975.15" y="474.89" font-size="9.24" font-weight="bold" fill="#4f7fec" stroke="#4f7fec" stroke-width="0.25" textLength="21.97" lengthAdjust="spacingAndGlyphs" >62 kt</text>
<text x="920.18" y="487.72" font-size="9.02" font-weight="bold" fill="#000" stroke="#000" stroke-width="0.25" textLength="15.99" lengthAdjust="spacingAndGlyphs" >SCP</text>
<text x="942.66" y="487.72" font-size="9.02" font-weight="bold" fill="#000" stroke="#000" stroke-width="0.25" textLength="16.12" lengthAdjust="spacingAndGlyphs" >STP</text>
<text x="966.76" y="486.51" font-size="8.36" font-weight="normal" fill="#000" textLength="15.08" lengthAdjust="spacingAndGlyphs" >EHI</text>
<text x="989.26" y="486.51" font-size="8.36" font-weight="normal" fill="#000" textLength="15.08" lengthAdjust="spacingAndGlyphs" >EHI</text>
<text x="965.38" y="491.60" font-size="3.74" font-weight="bold" fill="#000" textLength="17.57" lengthAdjust="spacingAndGlyphs" >0–1km</text>
<text x="988.08" y="491.60" font-size="3.74" font-weight="bold" fill="#000" textLength="17.47" lengthAdjust="spacingAndGlyphs" >0–3km</text>
<text x="923.61" y="497.50" font-size="7.48" font-weight="normal" fill="#e03030" textLength="8.78" lengthAdjust="spacingAndGlyphs" >---</text>
<text x="946.21" y="497.50" font-size="7.48" font-weight="normal" fill="#e03030" textLength="8.78" lengthAdjust="spacingAndGlyphs" >---</text>
<text x="971.83" y="498.85" font-size="8.14" font-weight="bold" fill="#ff5522" stroke="#ff5522" stroke-width="0.25" textLength="5.15" lengthAdjust="spacingAndGlyphs" >0</text>
<text x="994.23" y="498.85" font-size="8.14" font-weight="bold" fill="#ff5522" stroke="#ff5522" stroke-width="0.25" textLength="5.15" lengthAdjust="spacingAndGlyphs" >0</text>
<polyline points="13.5,502.6 13.5,600.6 385.9,600.6" fill="none" stroke="#555" stroke-width="1"/>
<rect x="385.9" y="502.6" width="137.5" height="124.7" fill="none" stroke="#555" stroke-width="1"/>
<rect x="523.4" y="502.6" width="243.6" height="124.7" fill="none" stroke="#555" stroke-width="1"/>
<text x="55.24" y="519.30" font-size="10.56" font-weight="bold" fill="#000" stroke="#000" stroke-width="0.25" textLength="47.32" lengthAdjust="spacingAndGlyphs" >SR-ECAPE</text>
<text x="124.33" y="519.30" font-size="10.56" font-weight="bold" fill="#000" stroke="#000" stroke-width="0.25" textLength="25.12" lengthAdjust="spacingAndGlyphs" >CAPE</text>
<text x="176.45" y="519.30" font-size="10.56" font-weight="bold" fill="#000" stroke="#000" stroke-width="0.25" textLength="31.72" lengthAdjust="spacingAndGlyphs" >6CAPE</text>
<text x="235.68" y="519.30" font-size="10.56" font-weight="bold" fill="#000" stroke="#000" stroke-width="0.25" textLength="31.38" lengthAdjust="spacingAndGlyphs" >3CAPE</text>
<text x="297.08" y="519.30" font-size="10.56" font-weight="bold" fill="#000" stroke="#000" stroke-width="0.25" textLength="17.50" lengthAdjust="spacingAndGlyphs" >CIN</text>
<text x="350.29" y="519.30" font-size="10.56" font-weight="bold" fill="#000" stroke="#000" stroke-width="0.25" textLength="17.79" lengthAdjust="spacingAndGlyphs" >LCL</text>
<text x="18.63" y="535.80" font-size="10.56" font-weight="bold" fill="#000" stroke="#000" stroke-width="0.25" textLength="16.39" lengthAdjust="spacingAndGlyphs" >SB:</text>
<text x="54.86" y="535.80" font-size="10.56" font-weight="bold" fill="#b22a2a" stroke="#b22a2a" stroke-width="0.25" textLength="40.22" lengthAdjust="spacingAndGlyphs" >142 J/kg</text>
<text x="114.97" y="535.80" font-size="10.56" font-weight="bold" fill="#ff4a1a" stroke="#ff4a1a" stroke-width="0.25" textLength="33.90" lengthAdjust="spacingAndGlyphs" >79 J/kg</text>
<text x="174.47" y="535.80" font-size="10.56" font-weight="bold" fill="#ff4a1a" stroke="#ff4a1a" stroke-width="0.25" textLength="34.00" lengthAdjust="spacingAndGlyphs" >30 J/kg</text>
<text x="233.31" y="535.80" font-size="10.56" font-weight="bold" fill="#ff4a1a" stroke="#ff4a1a" stroke-width="0.25" textLength="27.74" lengthAdjust="spacingAndGlyphs" >0 J/kg</text>
<text x="289.21" y="535.80" font-size="10.56" font-weight="bold" fill="#ff4a1a" stroke="#ff4a1a" stroke-width="0.25" textLength="43.27" lengthAdjust="spacingAndGlyphs" >-611 J/kg</text>
<text x="344.22" y="535.80" font-size="10.56" font-weight="bold" fill="#ff4a1a" stroke="#ff4a1a" stroke-width="0.25" textLength="30.96" lengthAdjust="spacingAndGlyphs" >257 m</text>
<text x="18.19" y="552.00" font-size="10.56" font-weight="bold" fill="#000" stroke="#000" stroke-width="0.25" textLength="20.14" lengthAdjust="spacingAndGlyphs" >MU:</text>
<text x="54.86" y="552.00" font-size="10.56" font-weight="bold" fill="#b22a2a" stroke="#b22a2a" stroke-width="0.25" textLength="40.22" lengthAdjust="spacingAndGlyphs" >142 J/kg</text>
<text x="114.97" y="552.00" font-size="10.56" font-weight="bold" fill="#ff4a1a" stroke="#ff4a1a" stroke-width="0.25" textLength="33.90" lengthAdjust="spacingAndGlyphs" >79 J/kg</text>
<text x="174.47" y="552.00" font-size="10.56" font-weight="bold" fill="#ff4a1a" stroke="#ff4a1a" stroke-width="0.25" textLength="34.00" lengthAdjust="spacingAndGlyphs" >30 J/kg</text>
<text x="233.31" y="552.00" font-size="10.56" font-weight="bold" fill="#ff4a1a" stroke="#ff4a1a" stroke-width="0.25" textLength="27.74" lengthAdjust="spacingAndGlyphs" >0 J/kg</text>
<text x="289.21" y="552.00" font-size="10.56" font-weight="bold" fill="#ff4a1a" stroke="#ff4a1a" stroke-width="0.25" textLength="43.27" lengthAdjust="spacingAndGlyphs" >-611 J/kg</text>
<text x="344.22" y="552.00" font-size="10.56" font-weight="bold" fill="#ff4a1a" stroke="#ff4a1a" stroke-width="0.25" textLength="30.96" lengthAdjust="spacingAndGlyphs" >257 m</text>
<text x="18.21" y="568.30" font-size="10.56" font-weight="bold" fill="#000" stroke="#000" stroke-width="0.25" textLength="18.28" lengthAdjust="spacingAndGlyphs" >ML:</text>
<text x="55.16" y="568.30" font-size="10.56" font-weight="bold" fill="#b22a2a" stroke="#b22a2a" stroke-width="0.25" textLength="33.40" lengthAdjust="spacingAndGlyphs" >91 J/kg</text>
<text x="115.17" y="568.30" font-size="10.56" font-weight="bold" fill="#ff4a1a" stroke="#ff4a1a" stroke-width="0.25" textLength="33.69" lengthAdjust="spacingAndGlyphs" >33 J/kg</text>
<text x="174.08" y="568.30" font-size="10.56" font-weight="bold" fill="#ff4a1a" stroke="#ff4a1a" stroke-width="0.25" textLength="33.59" lengthAdjust="spacingAndGlyphs" >11 J/kg</text>
<text x="233.31" y="568.30" font-size="10.56" font-weight="bold" fill="#ff4a1a" stroke="#ff4a1a" stroke-width="0.25" textLength="27.74" lengthAdjust="spacingAndGlyphs" >0 J/kg</text>
<text x="289.21" y="568.30" font-size="10.56" font-weight="bold" fill="#ff4a1a" stroke="#ff4a1a" stroke-width="0.25" textLength="43.27" lengthAdjust="spacingAndGlyphs" >-678 J/kg</text>
<text x="344.25" y="568.30" font-size="10.56" font-weight="bold" fill="#ff4a1a" stroke="#ff4a1a" stroke-width="0.25" textLength="30.92" lengthAdjust="spacingAndGlyphs" >869 m</text>
<text x="18.66" y="582.20" font-size="10.56" font-weight="bold" fill="#000" stroke="#000" stroke-width="0.25" textLength="36.45" lengthAdjust="spacingAndGlyphs" >DCAPE:</text>
<text x="59.46" y="582.20" font-size="10.56" font-weight="bold" fill="#8db0f0" stroke="#8db0f0" stroke-width="0.25" textLength="45.82" lengthAdjust="spacingAndGlyphs" >1065 J/kg</text>
<text x="18.63" y="593.00" font-size="10.56" font-weight="bold" fill="#000" stroke="#000" stroke-width="0.25" textLength="27.62" lengthAdjust="spacingAndGlyphs" >DCIN:</text>
<text x="59.72" y="593.00" font-size="10.56" font-weight="bold" fill="#8db0f0" stroke="#8db0f0" stroke-width="0.25" textLength="27.01" lengthAdjust="spacingAndGlyphs" >0 J/kg</text>
<text x="119.76" y="590.20" font-size="10.56" font-weight="bold" fill="#000" stroke="#000" stroke-width="0.25" textLength="51.66" lengthAdjust="spacingAndGlyphs" >MUNCAPE:</text>
<text x="172.85" y="590.20" font-size="10.56" font-weight="bold" fill="#c25a5a" stroke="#c25a5a" stroke-width="0.25" textLength="15.71" lengthAdjust="spacingAndGlyphs" >0.0</text>
<text x="206.16" y="590.80" font-size="10.56" font-weight="bold" fill="#000" stroke="#000" stroke-width="0.25" textLength="6.61" lengthAdjust="spacingAndGlyphs" >Γ</text>
<text x="212.91" y="590.00" font-size="6.16" font-weight="bold" fill="#000" textLength="12.15" lengthAdjust="spacingAndGlyphs" >0–3</text>
<text x="224.96" y="590.80" font-size="10.56" font-weight="bold" fill="#000" stroke="#000" stroke-width="0.25" textLength="5.68" lengthAdjust="spacingAndGlyphs" >:</text>
<text x="233.94" y="590.80" font-size="10.56" font-weight="bold" fill="#a0522d" stroke="#a0522d" stroke-width="0.25" textLength="45.09" lengthAdjust="spacingAndGlyphs" >4 Δ°C/km</text>
<text x="288.86" y="590.80" font-size="10.56" font-weight="bold" fill="#000" stroke="#000" stroke-width="0.25" textLength="6.61" lengthAdjust="spacingAndGlyphs" >Γ</text>
<text x="295.73" y="590.00" font-size="6.16" font-weight="bold" fill="#000" textLength="12.54" lengthAdjust="spacingAndGlyphs" >3–6</text>
<text x="307.46" y="590.80" font-size="10.56" font-weight="bold" fill="#000" stroke="#000" stroke-width="0.25" textLength="5.68" lengthAdjust="spacingAndGlyphs" >:</text>
<text x="319.15" y="590.80" font-size="10.56" font-weight="bold" fill="#a0522d" stroke="#a0522d" stroke-width="0.25" textLength="45.79" lengthAdjust="spacingAndGlyphs" >7 Δ°C/km</text>
<text x="56.24" y="613.80" font-size="12.54" font-weight="bold" fill="#a4c2f4" stroke="#a4c2f4" stroke-width="0.25" textLength="311.05" lengthAdjust="spacingAndGlyphs" >SOUNDERPY VERTICAL PROFILE ANALYSIS TOOL</text>
<text x="86.00" y="625.60" font-size="9.24" font-weight="bold" fill="#a4c2f4" stroke="#a4c2f4" stroke-width="0.25" textLength="250.80" lengthAdjust="spacingAndGlyphs" >(C) KYLE J GILLETT | sounderpysoundings.anvil.app</text>
<circle cx="32" cy="616.5" r="13.6" fill="#e8eaf2" stroke="#888" stroke-width="0.9"/>
<text x="19.26" y="614.60" font-size="5.28" font-weight="bold" fill="#111" textLength="23.84" lengthAdjust="spacingAndGlyphs" >SOUNDER</text>
<text x="32.23" y="621.60" font-size="8.80" font-weight="normal" fill="#3aa03a" textLength="6.27" lengthAdjust="spacingAndGlyphs" >P</text>
<text x="38.18" y="621.60" font-size="8.80" font-weight="normal" fill="#e03030" textLength="6.64" lengthAdjust="spacingAndGlyphs" >Y</text>
<text x="23.99" y="627.20" font-size="3.30" font-weight="normal" fill="#777" textLength="15.29" lengthAdjust="spacingAndGlyphs" >VERSION</text>
<text x="434.00" y="519.70" font-size="10.56" font-weight="bold" fill="#000" stroke="#000" stroke-width="0.25" textLength="31.42" lengthAdjust="spacingAndGlyphs" >RH(%)</text>
<text x="487.07" y="519.70" font-size="10.56" font-weight="bold" fill="#000" stroke="#000" stroke-width="0.25" textLength="7.06" lengthAdjust="spacingAndGlyphs" >ω</text>
<text x="394.87" y="535.70" font-size="10.56" font-weight="bold" fill="#000" stroke="#000" stroke-width="0.25" textLength="18.53" lengthAdjust="spacingAndGlyphs" >0-.5</text>
<line x1="395.5" y1="526.4" x2="412.6" y2="526.4" stroke="#000" stroke-width="0.8"/>
<text x="413.65" y="535.70" font-size="6.60" font-weight="bold" fill="#000" stroke="#000" stroke-width="0.25" textLength="9.35" lengthAdjust="spacingAndGlyphs" >km</text>
<text x="422.06" y="535.70" font-size="10.56" font-weight="bold" fill="#000" stroke="#000" stroke-width="0.25" textLength="5.68" lengthAdjust="spacingAndGlyphs" >:</text>
<text x="436.45" y="535.70" font-size="10.56" font-weight="bold" fill="#2a8a2a" stroke="#2a8a2a" stroke-width="0.25" textLength="24.07" lengthAdjust="spacingAndGlyphs" >76 %</text>
<text x="467.93" y="535.70" font-size="10.56" font-weight="bold" fill="#2a8a2a" stroke="#2a8a2a" stroke-width="0.25" textLength="45.19" lengthAdjust="spacingAndGlyphs" >12.1 g/kg</text>
<text x="394.87" y="551.90" font-size="10.56" font-weight="bold" fill="#000" stroke="#000" stroke-width="0.25" textLength="15.54" lengthAdjust="spacingAndGlyphs" >0-1</text>
<line x1="395.5" y1="542.6" x2="409.6" y2="542.6" stroke="#000" stroke-width="0.8"/>
<text x="410.66" y="551.90" font-size="6.60" font-weight="bold" fill="#000" stroke="#000" stroke-width="0.25" textLength="9.35" lengthAdjust="spacingAndGlyphs" >km</text>
<text x="419.07" y="551.90" font-size="10.56" font-weight="bold" fill="#000" stroke="#000" stroke-width="0.25" textLength="5.68" lengthAdjust="spacingAndGlyphs" >:</text>
<text x="436.51" y="551.90" font-size="10.56" font-weight="bold" fill="#3d9a3d" stroke="#3d9a3d" stroke-width="0.25" textLength="24.07" lengthAdjust="spacingAndGlyphs" >62 %</text>
<text x="467.93" y="551.90" font-size="10.56" font-weight="bold" fill="#3d9a3d" stroke="#3d9a3d" stroke-width="0.25" textLength="45.19" lengthAdjust="spacingAndGlyphs" >10.5 g/kg</text>
<text x="394.62" y="568.30" font-size="10.56" font-weight="bold" fill="#000" stroke="#000" stroke-width="0.25" textLength="15.54" lengthAdjust="spacingAndGlyphs" >1-3</text>
<line x1="395.5" y1="559.0" x2="409.3" y2="559.0" stroke="#000" stroke-width="0.8"/>
<text x="410.32" y="568.30" font-size="6.60" font-weight="bold" fill="#000" stroke="#000" stroke-width="0.25" textLength="9.35" lengthAdjust="spacingAndGlyphs" >km</text>
<text x="418.73" y="568.30" font-size="10.56" font-weight="bold" fill="#000" stroke="#000" stroke-width="0.25" textLength="5.68" lengthAdjust="spacingAndGlyphs" >:</text>
<text x="436.74" y="568.30" font-size="10.56" font-weight="bold" fill="#5aaa5a" stroke="#5aaa5a" stroke-width="0.25" textLength="24.07" lengthAdjust="spacingAndGlyphs" >40 %</text>
<text x="468.28" y="568.30" font-size="10.56" font-weight="bold" fill="#5aaa5a" stroke="#5aaa5a" stroke-width="0.25" textLength="39.32" lengthAdjust="spacingAndGlyphs" >5.8 g/kg</text>
<text x="395.05" y="584.70" font-size="10.56" font-weight="bold" fill="#000" stroke="#000" stroke-width="0.25" textLength="15.54" lengthAdjust="spacingAndGlyphs" >3-6</text>
<line x1="395.5" y1="575.4" x2="409.7" y2="575.4" stroke="#000" stroke-width="0.8"/>
<text x="410.75" y="584.70" font-size="6.60" font-weight="bold" fill="#000" stroke="#000" stroke-width="0.25" textLength="9.35" lengthAdjust="spacingAndGlyphs" >km</text>
<text x="419.16" y="584.70" font-size="10.56" font-weight="bold" fill="#000" stroke="#000" stroke-width="0.25" textLength="5.68" lengthAdjust="spacingAndGlyphs" >:</text>
<text x="436.58" y="584.70" font-size="10.56" font-weight="bold" fill="#6cb46c" stroke="#6cb46c" stroke-width="0.25" textLength="24.07" lengthAdjust="spacingAndGlyphs" >51 %</text>
<text x="468.36" y="584.70" font-size="10.56" font-weight="bold" fill="#6cb46c" stroke="#6cb46c" stroke-width="0.25" textLength="39.32" lengthAdjust="spacingAndGlyphs" >3.3 g/kg</text>
<text x="394.91" y="600.70" font-size="10.56" font-weight="bold" fill="#000" stroke="#000" stroke-width="0.25" textLength="15.54" lengthAdjust="spacingAndGlyphs" >6-9</text>
<line x1="395.5" y1="591.4" x2="409.5" y2="591.4" stroke="#000" stroke-width="0.8"/>
<text x="410.60" y="600.70" font-size="6.60" font-weight="bold" fill="#000" stroke="#000" stroke-width="0.25" textLength="9.35" lengthAdjust="spacingAndGlyphs" >km</text>
<text x="419.01" y="600.70" font-size="10.56" font-weight="bold" fill="#000" stroke="#000" stroke-width="0.25" textLength="5.68" lengthAdjust="spacingAndGlyphs" >:</text>
<text x="436.56" y="600.70" font-size="10.56" font-weight="bold" fill="#78bb78" stroke="#78bb78" stroke-width="0.25" textLength="24.07" lengthAdjust="spacingAndGlyphs" >80 %</text>
<text x="467.93" y="600.70" font-size="10.56" font-weight="bold" fill="#78bb78" stroke="#78bb78" stroke-width="0.25" textLength="39.32" lengthAdjust="spacingAndGlyphs" >1.4 g/kg</text>
<text x="395.29" y="612.41" font-size="7.70" font-weight="bold" fill="#000" stroke="#000" stroke-width="0.25" textLength="24.84" lengthAdjust="spacingAndGlyphs" >PWAT:</text>
<text x="424.94" y="612.41" font-size="7.70" font-weight="bold" fill="#2a8a2a" stroke="#2a8a2a" stroke-width="0.25" textLength="32.61" lengthAdjust="spacingAndGlyphs" >1.246 in</text>
<text x="465.79" y="612.41" font-size="7.70" font-weight="bold" fill="#000" stroke="#000" stroke-width="0.25" textLength="15.56" lengthAdjust="spacingAndGlyphs" >WB:</text>
<text x="489.96" y="612.41" font-size="7.70" font-weight="bold" fill="#2a8a2a" stroke="#2a8a2a" stroke-width="0.25" textLength="21.58" lengthAdjust="spacingAndGlyphs" >18 °C</text>
<text x="395.26" y="623.41" font-size="7.70" font-weight="bold" fill="#000" stroke="#000" stroke-width="0.25" textLength="18.31" lengthAdjust="spacingAndGlyphs" >FRZ:</text>
<text x="427.90" y="623.41" font-size="7.70" font-weight="normal" fill="#5a8ef0" textLength="27.09" lengthAdjust="spacingAndGlyphs" >4400m</text>
<text x="463.59" y="623.41" font-size="7.70" font-weight="bold" fill="#000" stroke="#000" stroke-width="0.25" textLength="18.09" lengthAdjust="spacingAndGlyphs" >WB0:</text>
<text x="488.67" y="623.41" font-size="7.70" font-weight="normal" fill="#5a8ef0" textLength="26.40" lengthAdjust="spacingAndGlyphs" >3700m</text>
<text x="573.74" y="519.30" font-size="10.56" font-weight="bold" fill="#333" stroke="#333" stroke-width="0.25" textLength="23.57" lengthAdjust="spacingAndGlyphs" >BWD</text>
<text x="618.62" y="519.30" font-size="10.56" font-weight="bold" fill="#333" stroke="#333" stroke-width="0.25" textLength="20.33" lengthAdjust="spacingAndGlyphs" >SRH</text>
<text x="659.52" y="519.30" font-size="10.56" font-weight="bold" fill="#333" stroke="#333" stroke-width="0.25" textLength="22.79" lengthAdjust="spacingAndGlyphs" >SRW</text>
<text x="691.00" y="519.30" font-size="10.56" font-weight="bold" fill="#333" stroke="#333" stroke-width="0.25" textLength="30.37" lengthAdjust="spacingAndGlyphs" >SWζ%</text>
<text x="733.00" y="519.30" font-size="10.56" font-weight="bold" fill="#333" stroke="#333" stroke-width="0.25" textLength="21.87" lengthAdjust="spacingAndGlyphs" >SWζ</text>
<text x="531.77" y="535.60" font-size="10.56" font-weight="bold" fill="#222" stroke="#222" stroke-width="0.25" textLength="18.53" lengthAdjust="spacingAndGlyphs" >0-.5</text>
<text x="550.55" y="535.60" font-size="6.60" font-weight="bold" fill="#222" stroke="#222" stroke-width="0.25" textLength="9.35" lengthAdjust="spacingAndGlyphs" >km</text>
<text x="558.96" y="535.60" font-size="10.56" font-weight="bold" fill="#222" stroke="#222" stroke-width="0.25" textLength="5.68" lengthAdjust="spacingAndGlyphs" >:</text>
<text x="571.13" y="535.60" font-size="10.56" font-weight="bold" fill="#6d9bf0" stroke="#6d9bf0" stroke-width="0.25" textLength="24.07" lengthAdjust="spacingAndGlyphs" >11 kt</text>
<text x="605.24" y="535.60" font-size="10.56" font-weight="bold" fill="#6d9bf0" stroke="#6d9bf0" stroke-width="0.25" textLength="39.91" lengthAdjust="spacingAndGlyphs" >40 m²/s²</text>
<text x="659.43" y="535.60" font-size="10.56" font-weight="bold" fill="#6d9bf0" stroke="#6d9bf0" stroke-width="0.25" textLength="24.07" lengthAdjust="spacingAndGlyphs" >29 kt</text>
<text x="698.43" y="535.60" font-size="10.56" font-weight="bold" fill="#6d9bf0" stroke="#6d9bf0" stroke-width="0.25" textLength="11.75" lengthAdjust="spacingAndGlyphs" >58</text>
<text x="730.28" y="535.60" font-size="10.56" font-weight="bold" fill="#6d9bf0" stroke="#6d9bf0" stroke-width="0.25" textLength="26.43" lengthAdjust="spacingAndGlyphs" >0.014</text>
<text x="531.77" y="552.00" font-size="10.56" font-weight="bold" fill="#222" stroke="#222" stroke-width="0.25" textLength="15.54" lengthAdjust="spacingAndGlyphs" >0-1</text>
<text x="547.56" y="552.00" font-size="6.60" font-weight="bold" fill="#222" stroke="#222" stroke-width="0.25" textLength="9.35" lengthAdjust="spacingAndGlyphs" >km</text>
<text x="555.97" y="552.00" font-size="10.56" font-weight="bold" fill="#222" stroke="#222" stroke-width="0.25" textLength="5.68" lengthAdjust="spacingAndGlyphs" >:</text>
<text x="571.56" y="552.00" font-size="10.56" font-weight="bold" fill="#9470dc" stroke="#9470dc" stroke-width="0.25" textLength="24.07" lengthAdjust="spacingAndGlyphs" >30 kt</text>
<text x="604.73" y="552.00" font-size="10.56" font-weight="bold" fill="#9470dc" stroke="#9470dc" stroke-width="0.25" textLength="45.78" lengthAdjust="spacingAndGlyphs" >177 m²/s²</text>
<text x="659.56" y="552.00" font-size="10.56" font-weight="bold" fill="#9470dc" stroke="#9470dc" stroke-width="0.25" textLength="24.07" lengthAdjust="spacingAndGlyphs" >30 kt</text>
<text x="698.35" y="552.00" font-size="10.56" font-weight="bold" fill="#9470dc" stroke="#9470dc" stroke-width="0.25" textLength="11.75" lengthAdjust="spacingAndGlyphs" >75</text>
<text x="730.28" y="552.00" font-size="10.56" font-weight="bold" fill="#9470dc" stroke="#9470dc" stroke-width="0.25" textLength="26.43" lengthAdjust="spacingAndGlyphs" >0.016</text>
<text x="531.52" y="568.00" font-size="10.56" font-weight="bold" fill="#222" stroke="#222" stroke-width="0.25" textLength="15.54" lengthAdjust="spacingAndGlyphs" >1-3</text>
<text x="547.22" y="568.00" font-size="6.60" font-weight="bold" fill="#222" stroke="#222" stroke-width="0.25" textLength="9.35" lengthAdjust="spacingAndGlyphs" >km</text>
<text x="555.63" y="568.00" font-size="10.56" font-weight="bold" fill="#222" stroke="#222" stroke-width="0.25" textLength="5.68" lengthAdjust="spacingAndGlyphs" >:</text>
<text x="571.13" y="568.00" font-size="10.56" font-weight="bold" fill="#4d86ea" stroke="#4d86ea" stroke-width="0.25" textLength="24.07" lengthAdjust="spacingAndGlyphs" >16 kt</text>
<text x="605.08" y="568.00" font-size="10.56" font-weight="bold" fill="#4d86ea" stroke="#4d86ea" stroke-width="0.25" textLength="39.91" lengthAdjust="spacingAndGlyphs" >57 m²/s²</text>
<text x="659.43" y="568.00" font-size="10.56" font-weight="bold" fill="#4d86ea" stroke="#4d86ea" stroke-width="0.25" textLength="24.07" lengthAdjust="spacingAndGlyphs" >21 kt</text>
<text x="698.54" y="568.00" font-size="10.56" font-weight="bold" fill="#4d86ea" stroke="#4d86ea" stroke-width="0.25" textLength="11.75" lengthAdjust="spacingAndGlyphs" >43</text>
<text x="730.28" y="568.00" font-size="10.56" font-weight="bold" fill="#4d86ea" stroke="#4d86ea" stroke-width="0.25" textLength="26.43" lengthAdjust="spacingAndGlyphs" >0.004</text>
<text x="531.95" y="584.30" font-size="10.56" font-weight="bold" fill="#222" stroke="#222" stroke-width="0.25" textLength="15.54" lengthAdjust="spacingAndGlyphs" >3-6</text>
<text x="547.65" y="584.30" font-size="6.60" font-weight="bold" fill="#222" stroke="#222" stroke-width="0.25" textLength="9.35" lengthAdjust="spacingAndGlyphs" >km</text>
<text x="556.06" y="584.30" font-size="10.56" font-weight="bold" fill="#222" stroke="#222" stroke-width="0.25" textLength="5.68" lengthAdjust="spacingAndGlyphs" >:</text>
<text x="571.56" y="584.30" font-size="10.56" font-weight="bold" fill="#1414c8" stroke="#1414c8" stroke-width="0.25" textLength="24.07" lengthAdjust="spacingAndGlyphs" >34 kt</text>
<text x="604.73" y="584.30" font-size="10.56" font-weight="bold" fill="#1414c8" stroke="#1414c8" stroke-width="0.25" textLength="45.78" lengthAdjust="spacingAndGlyphs" >184 m²/s²</text>
<text x="659.43" y="584.30" font-size="10.56" font-weight="bold" fill="#1414c8" stroke="#1414c8" stroke-width="0.25" textLength="24.07" lengthAdjust="spacingAndGlyphs" >22 kt</text>
<text x="698.56" y="584.30" font-size="10.56" font-weight="bold" fill="#1414c8" stroke="#1414c8" stroke-width="0.25" textLength="11.75" lengthAdjust="spacingAndGlyphs" >40</text>
<text x="730.28" y="584.30" font-size="10.56" font-weight="bold" fill="#1414c8" stroke="#1414c8" stroke-width="0.25" textLength="26.43" lengthAdjust="spacingAndGlyphs" >0.006</text>
<text x="531.81" y="600.90" font-size="10.56" font-weight="bold" fill="#222" stroke="#222" stroke-width="0.25" textLength="15.54" lengthAdjust="spacingAndGlyphs" >6-9</text>
<text x="547.50" y="600.90" font-size="6.60" font-weight="bold" fill="#222" stroke="#222" stroke-width="0.25" textLength="9.35" lengthAdjust="spacingAndGlyphs" >km</text>
<text x="555.91" y="600.90" font-size="10.56" font-weight="bold" fill="#222" stroke="#222" stroke-width="0.25" textLength="5.68" lengthAdjust="spacingAndGlyphs" >:</text>
<text x="571.48" y="600.90" font-size="10.56" font-weight="bold" fill="#0a0a8c" stroke="#0a0a8c" stroke-width="0.25" textLength="24.07" lengthAdjust="spacingAndGlyphs" >50 kt</text>
<text x="602.59" y="600.90" font-size="10.56" font-weight="bold" fill="#0a0a8c" stroke="#0a0a8c" stroke-width="0.25" textLength="49.30" lengthAdjust="spacingAndGlyphs" >-195 m²/s²</text>
<text x="659.56" y="600.90" font-size="10.56" font-weight="bold" fill="#0a0a8c" stroke="#0a0a8c" stroke-width="0.25" textLength="24.07" lengthAdjust="spacingAndGlyphs" >32 kt</text>
<text x="698.45" y="600.90" font-size="10.56" font-weight="bold" fill="#0a0a8c" stroke="#0a0a8c" stroke-width="0.25" textLength="11.75" lengthAdjust="spacingAndGlyphs" >60</text>
<text x="730.28" y="600.90" font-size="10.56" font-weight="bold" fill="#0a0a8c" stroke="#0a0a8c" stroke-width="0.25" textLength="26.43" lengthAdjust="spacingAndGlyphs" >0.007</text>
<text x="531.55" y="617.20" font-size="10.56" font-weight="bold" fill="#222" stroke="#222" stroke-width="0.25" textLength="18.39" lengthAdjust="spacingAndGlyphs" >EIL:</text>
<text x="571.39" y="617.20" font-size="10.56" font-weight="bold" fill="#0a0a8c" stroke="#0a0a8c" stroke-width="0.25" textLength="22.87" lengthAdjust="spacingAndGlyphs" >--- kt</text>
<text x="604.99" y="617.20" font-size="10.56" font-weight="bold" fill="#0a0a8c" stroke="#0a0a8c" stroke-width="0.25" textLength="38.71" lengthAdjust="spacingAndGlyphs" >--- m²/s²</text>
<text x="659.39" y="617.20" font-size="10.56" font-weight="bold" fill="#0a0a8c" stroke="#0a0a8c" stroke-width="0.25" textLength="22.87" lengthAdjust="spacingAndGlyphs" >--- kt</text>
<text x="697.90" y="617.20" font-size="10.56" font-weight="bold" fill="#0a0a8c" stroke="#0a0a8c" stroke-width="0.25" textLength="18.77" lengthAdjust="spacingAndGlyphs" >nan</text>
<text x="732.60" y="617.20" font-size="10.56" font-weight="bold" fill="#0a0a8c" stroke="#0a0a8c" stroke-width="0.25" textLength="18.77" lengthAdjust="spacingAndGlyphs" >nan</text>
<defs><clipPath id="cp"><rect x="767.5" y="502.6" width="239.8" height="124.3"/></clipPath></defs>
<rect x="767.5" y="502.6" width="239.8" height="124.3" fill="#fff"/>
<g clip-path="url(#cp)">
<polygon points="767.5,502.6 808.8,502.6 809.4,505.0 790.0,513.8 767.5,517.5" fill="#dfe7f7" />
<polygon points="767.5,577.3 824.2,581.6 821.2,586.5 822.4,592.6 825.4,598.1 800.4,606.6 801.6,610.3 809.6,614.9 767.5,617.6" fill="#dfe7f7" />
<polygon points="767.5,621.3 783.3,623.7 779.7,626.9 767.5,626.9" fill="#dfe7f7" />
<polygon points="827.4,502.6 832.5,502.6 834.4,506.2 828.8,517.5 829.4,568.8 843.8,576.2 845.0,580.4 850.5,586.5 849.2,592.6 843.1,606.0 864.5,610.9 838.3,621.3 834.6,626.9 827.4,626.9" fill="#e2e2e2" />
<polygon points="827.4,502.6 832.5,502.6 832.5,503.8 833.1,507.5 828.1,516.2 828.1,573.8 843.1,581.6 849.2,587.1 848.0,595.6 838.3,606.6 855.4,610.9 831.5,618.8 834.0,626.9 827.4,626.9" fill="#efd9b4" />
<polygon points="887.5,502.6 893.1,502.6 894.4,506.9 898.8,522.5 908.8,573.1 909.4,573.1 919.2,581.6 916.1,586.5 912.5,597.5 916.7,606.6 904.5,614.6 918.0,626.9 887.5,626.9" fill="#dfe7f7" />
<polygon points="977.2,582.8 966.2,590.1 977.2,597.5" fill="#72b9b9" />
<polygon points="947.5,613.0 977.2,611.3 977.2,626.9 947.5,626.9" fill="#72b9b9" />
<line x1="767.5" y1="523.4" x2="1007.3" y2="523.4" stroke="#d4d4d4" stroke-width="0.8"/>
<line x1="767.5" y1="544.2" x2="1007.3" y2="544.2" stroke="#d4d4d4" stroke-width="0.8"/>
<line x1="767.5" y1="565.0" x2="1007.3" y2="565.0" stroke="#d4d4d4" stroke-width="0.8"/>
<line x1="767.5" y1="585.8" x2="1007.3" y2="585.8" stroke="#d4d4d4" stroke-width="0.8"/>
<line x1="767.5" y1="606.6" x2="1007.3" y2="606.6" stroke="#d4d4d4" stroke-width="0.8"/>
<line x1="977.2" y1="502.6" x2="977.2" y2="626.9" stroke="#6a9ae8" stroke-width="0.8" stroke-dasharray="1,1.2"/>
<polyline points="767.5,517.5 790.0,513.8 809.4,505.0 808.8,502.6" fill="none" stroke="#ff0000" stroke-width="1.5" stroke-linejoin="round" />
<polyline points="767.5,577.3 824.2,581.6 821.2,586.5" fill="none" stroke="#ff0000" stroke-width="1.5" stroke-linejoin="round" />
<polyline points="821.2,586.5 822.4,592.6 825.4,598.1 800.4,606.6 801.6,610.3 809.6,614.9 767.5,617.6" fill="none" stroke="#8b1a9b" stroke-width="1.6" stroke-linejoin="round" />
<polyline points="767.5,621.3 783.3,623.7 779.7,626.9" fill="none" stroke="#8b1a9b" stroke-width="1.6" stroke-linejoin="round" />
<polyline points="832.5,502.6 834.4,506.2 828.8,517.5 829.4,568.8 843.8,576.2 845.0,580.4 850.5,586.5 849.2,592.6 843.1,606.0 864.5,610.9 838.3,621.3 834.6,626.9" fill="none" stroke="#8a8a8a" stroke-width="1.6" stroke-linejoin="round" />
<polyline points="832.5,503.8 833.1,507.5 828.1,516.2 828.1,573.8 843.1,581.6 849.2,587.1 848.0,595.6 838.3,606.6 855.4,610.9 831.5,618.8 834.0,626.9" fill="none" stroke="#ffa500" stroke-width="1.1" stroke-linejoin="round" />
<polyline points="829.4,502.6 829.4,626.9" fill="none" stroke="#999" stroke-width="0.6" stroke-linejoin="round" />
<polyline points="893.1,502.6 894.4,506.9 898.8,522.5 908.8,573.1 909.4,573.1 919.2,581.6 916.1,586.5" fill="none" stroke="#ff2020" stroke-width="1.5" stroke-linejoin="round" />
<polyline points="916.1,586.5 912.5,597.5 916.7,606.6 904.5,614.6 918.0,626.9" fill="none" stroke="#9430a8" stroke-width="1.6" stroke-linejoin="round" />
</g>
<line x1="767.5" y1="502.6" x2="767.5" y2="626.9" stroke="#666" stroke-width="0.9"/>
<line x1="827.4" y1="502.6" x2="827.4" y2="626.9" stroke="#666" stroke-width="0.9"/>
<line x1="887.5" y1="502.6" x2="887.5" y2="626.9" stroke="#666" stroke-width="0.9"/>
<line x1="947.5" y1="502.6" x2="947.5" y2="626.9" stroke="#666" stroke-width="0.9"/>
<line x1="1007.3" y1="502.6" x2="1007.3" y2="626.9" stroke="#666" stroke-width="0.9"/>
<line x1="767.5" y1="626.9" x2="1007.3" y2="626.9" stroke="#555" stroke-width="1"/>
<text x="771.11" y="513.31" font-size="7.70" font-weight="bold" fill="#222" stroke="#222" stroke-width="0.25" textLength="52.97" lengthAdjust="spacingAndGlyphs" >Streamwiseness</text>
<text x="785.71" y="519.66" font-size="7.70" font-weight="bold" fill="#222" stroke="#222" stroke-width="0.25" textLength="25.65" lengthAdjust="spacingAndGlyphs" >of ζ (%)</text>
<text x="841.16" y="515.85" font-size="8.80" font-weight="bold" fill="#222" stroke="#222" stroke-width="0.25" textLength="32.84" lengthAdjust="spacingAndGlyphs" >Total ζ &amp;</text>
<text x="831.01" y="523.35" font-size="8.80" font-weight="bold" fill="#222" stroke="#222" stroke-width="0.25" textLength="52.22" lengthAdjust="spacingAndGlyphs" >Streamwise ζ</text>
<text x="846.49" y="530.50" font-size="8.80" font-weight="bold" fill="#222" stroke="#222" stroke-width="0.25" textLength="21.42" lengthAdjust="spacingAndGlyphs" >(/sec)</text>
<text x="887.86" y="518.00" font-size="8.80" font-weight="bold" fill="#222" stroke="#222" stroke-width="0.25" textLength="58.43" lengthAdjust="spacingAndGlyphs" >Storm Relative</text>
<text x="897.49" y="525.00" font-size="8.80" font-weight="bold" fill="#222" stroke="#222" stroke-width="0.25" textLength="39.82" lengthAdjust="spacingAndGlyphs" >Wind (kts)</text>
<text x="958.77" y="515.85" font-size="8.80" font-weight="bold" fill="#222" stroke="#222" stroke-width="0.25" textLength="35.26" lengthAdjust="spacingAndGlyphs" >Stepwise</text>
<text x="955.94" y="523.35" font-size="8.80" font-weight="bold" fill="#222" stroke="#222" stroke-width="0.25" textLength="44.36" lengthAdjust="spacingAndGlyphs" >CIN &amp; CAPE</text>
<text x="967.36" y="530.50" font-size="8.80" font-weight="bold" fill="#222" stroke="#222" stroke-width="0.25" textLength="21.14" lengthAdjust="spacingAndGlyphs" >(J/kg)</text>
<text x="773.76" y="545.09" font-size="7.48" font-weight="bold" fill="#111" stroke="#111" stroke-width="0.25" textLength="16.08" lengthAdjust="spacingAndGlyphs" >2 km</text>
<text x="773.54" y="565.44" font-size="7.48" font-weight="bold" fill="#111" stroke="#111" stroke-width="0.25" textLength="22.50" lengthAdjust="spacingAndGlyphs" >1.5 km</text>
<text x="773.55" y="586.34" font-size="7.48" font-weight="bold" fill="#111" stroke="#111" stroke-width="0.25" textLength="16.29" lengthAdjust="spacingAndGlyphs" >1 km</text>
<text x="773.50" y="607.04" font-size="7.48" font-weight="bold" fill="#111" stroke="#111" stroke-width="0.25" textLength="18.96" lengthAdjust="spacingAndGlyphs" >.5 km</text>
<text x="932.97" y="617.47" font-size="7.26" font-weight="bold" fill="#111" stroke="#111" stroke-width="0.25" textLength="13.20" lengthAdjust="spacingAndGlyphs" >-LCL</text>
<g transform="translate(776.6,623.1) rotate(-10.0)"><text x="-4.01" y="2.45" font-size="7.92" font-weight="normal" fill="#7a7a7a" textLength="8.01" lengthAdjust="spacingAndGlyphs" >50</text></g>
<g transform="translate(796.1,623.1) rotate(-10.0)"><text x="-4.05" y="2.45" font-size="7.92" font-weight="normal" fill="#7a7a7a" textLength="8.01" lengthAdjust="spacingAndGlyphs" >70</text></g>
<g transform="translate(815.7,623.1) rotate(-10.0)"><text x="-4.03" y="2.45" font-size="7.92" font-weight="normal" fill="#7a7a7a" textLength="8.01" lengthAdjust="spacingAndGlyphs" >90</text></g>
<g transform="translate(837.6,623.1) rotate(-10.0)"><text x="-5.16" y="2.45" font-size="7.92" font-weight="normal" fill="#7a7a7a" textLength="10.01" lengthAdjust="spacingAndGlyphs" >.01</text></g>
<g transform="translate(857.2,623.1) rotate(-10.0)"><text x="-5.17" y="2.45" font-size="7.92" font-weight="normal" fill="#7a7a7a" textLength="10.01" lengthAdjust="spacingAndGlyphs" >.03</text></g>
<g transform="translate(877.3,623.1) rotate(-10.0)"><text x="-5.18" y="2.45" font-size="7.92" font-weight="normal" fill="#7a7a7a" textLength="10.01" lengthAdjust="spacingAndGlyphs" >.05</text></g>
<g transform="translate(902.1,623.1) rotate(-10.0)"><text x="-4.04" y="2.45" font-size="7.92" font-weight="normal" fill="#7a7a7a" textLength="8.01" lengthAdjust="spacingAndGlyphs" >20</text></g>
<g transform="translate(918.0,623.1) rotate(-10.0)"><text x="-4.00" y="2.45" font-size="7.92" font-weight="normal" fill="#7a7a7a" textLength="8.01" lengthAdjust="spacingAndGlyphs" >30</text></g>
<g transform="translate(932.6,623.1) rotate(-10.0)"><text x="-3.95" y="2.45" font-size="7.92" font-weight="normal" fill="#7a7a7a" textLength="8.01" lengthAdjust="spacingAndGlyphs" >40</text></g>
<g transform="translate(957.0,620.8) rotate(-50.0)"><text x="-6.22" y="2.11" font-size="6.82" font-weight="normal" fill="#6a6a6a" textLength="12.41" lengthAdjust="spacingAndGlyphs" >-200</text></g>
<g transform="translate(968.0,620.8) rotate(-50.0)"><text x="-6.22" y="2.11" font-size="6.82" font-weight="normal" fill="#6a6a6a" textLength="12.41" lengthAdjust="spacingAndGlyphs" >-100</text></g>
<g transform="translate(976.3,620.8) rotate(-50.0)"><text x="-1.72" y="2.11" font-size="6.82" font-weight="normal" fill="#6a6a6a" textLength="3.45" lengthAdjust="spacingAndGlyphs" >0</text></g>
<g transform="translate(987.0,620.8) rotate(-50.0)"><text x="-3.51" y="2.11" font-size="6.82" font-weight="normal" fill="#6a6a6a" textLength="6.55" lengthAdjust="spacingAndGlyphs" >1k</text></g>
<g transform="translate(996.7,620.8) rotate(-50.0)"><text x="-3.43" y="2.11" font-size="6.82" font-weight="normal" fill="#6a6a6a" textLength="6.55" lengthAdjust="spacingAndGlyphs" >2k</text></g>
<line x1="776.6" y1="626.9" x2="776.6" y2="624.9" stroke="#444" stroke-width="0.7"/>
<line x1="796.1" y1="626.9" x2="796.1" y2="624.9" stroke="#444" stroke-width="0.7"/>
<line x1="815.7" y1="626.9" x2="815.7" y2="624.9" stroke="#444" stroke-width="0.7"/>
<line x1="837.6" y1="626.9" x2="837.6" y2="624.9" stroke="#444" stroke-width="0.7"/>
<line x1="857.2" y1="626.9" x2="857.2" y2="624.9" stroke="#444" stroke-width="0.7"/>
<line x1="877.3" y1="626.9" x2="877.3" y2="624.9" stroke="#444" stroke-width="0.7"/>
<line x1="902.1" y1="626.9" x2="902.1" y2="624.9" stroke="#444" stroke-width="0.7"/>
<line x1="918.0" y1="626.9" x2="918.0" y2="624.9" stroke="#444" stroke-width="0.7"/>
<line x1="932.6" y1="626.9" x2="932.6" y2="624.9" stroke="#444" stroke-width="0.7"/>
<line x1="957.5" y1="626.9" x2="957.5" y2="624.9" stroke="#444" stroke-width="0.7"/>
<line x1="967.5" y1="626.9" x2="967.5" y2="624.9" stroke="#444" stroke-width="0.7"/>
<line x1="977.2" y1="626.9" x2="977.2" y2="624.9" stroke="#444" stroke-width="0.7"/>
<line x1="987.0" y1="626.9" x2="987.0" y2="624.9" stroke="#444" stroke-width="0.7"/>
<line x1="996.7" y1="626.9" x2="996.7" y2="624.9" stroke="#444" stroke-width="0.7"/>
<rect x="0" y="0" width="1024" height="2.4" fill="#000"/><rect x="0" y="636.9" width="1024" height="3.1" fill="#000"/><rect x="0" y="0" width="3.0" height="640" fill="#000"/><rect x="1021" y="0" width="3" height="640" fill="#000"/>
</svg>
</body></html>
